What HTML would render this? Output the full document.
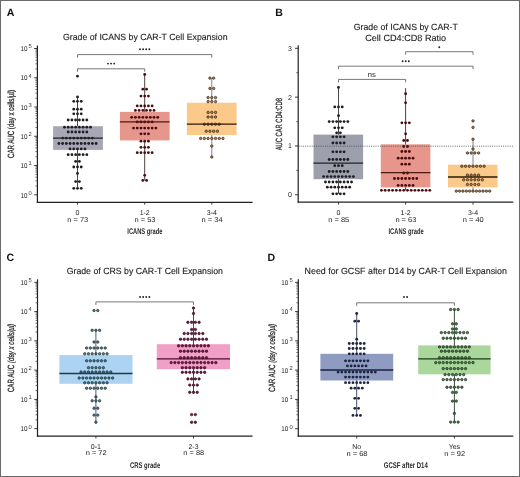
<!DOCTYPE html>
<html><head><meta charset="utf-8"><style>
html,body{margin:0;padding:0;background:#fff;width:520px;height:477px;overflow:hidden}
svg text{font-family:"Liberation Sans", sans-serif}
svg{will-change:transform;text-rendering:geometricPrecision}
</style></head><body>
<svg width="520" height="477" viewBox="0 0 520 477" style="display:block">
<rect width="520" height="477" fill="#fff"/>
<text x="6.80" y="16.00" font-size="10.6" text-anchor="start" fill="#111" font-weight="bold">A</text>
<text x="63.00" y="40.10" font-size="9.0" text-anchor="start" fill="#1e1e1e" font-weight="normal" textLength="164.5" lengthAdjust="spacingAndGlyphs" stroke="#1e1e1e" stroke-width="0.12">Grade of ICANS by CAR-T Cell Expansion</text>
<line x1="37.40" y1="45.50" x2="37.40" y2="202.90" stroke="#222" stroke-width="1.2"/>
<line x1="36.80" y1="202.30" x2="252.60" y2="202.30" stroke="#222" stroke-width="1.2"/>
<line x1="34.20" y1="194.80" x2="37.40" y2="194.80" stroke="#222" stroke-width="0.9"/>
<text x="27.40" y="197.50" font-size="6.9" text-anchor="end" fill="#222" font-weight="normal" textLength="7.0" lengthAdjust="spacingAndGlyphs">10</text>
<text x="28.50" y="194.60" font-size="5.8" text-anchor="start" fill="#333" font-weight="normal">0</text>
<line x1="35.50" y1="185.99" x2="37.40" y2="185.99" stroke="#333" stroke-width="0.75"/>
<line x1="35.50" y1="180.84" x2="37.40" y2="180.84" stroke="#333" stroke-width="0.75"/>
<line x1="35.50" y1="177.18" x2="37.40" y2="177.18" stroke="#333" stroke-width="0.75"/>
<line x1="35.50" y1="174.35" x2="37.40" y2="174.35" stroke="#333" stroke-width="0.75"/>
<line x1="35.50" y1="172.03" x2="37.40" y2="172.03" stroke="#333" stroke-width="0.75"/>
<line x1="35.50" y1="170.07" x2="37.40" y2="170.07" stroke="#333" stroke-width="0.75"/>
<line x1="35.50" y1="168.38" x2="37.40" y2="168.38" stroke="#333" stroke-width="0.75"/>
<line x1="35.50" y1="166.88" x2="37.40" y2="166.88" stroke="#333" stroke-width="0.75"/>
<line x1="34.20" y1="165.54" x2="37.40" y2="165.54" stroke="#222" stroke-width="0.9"/>
<text x="27.40" y="168.24" font-size="6.9" text-anchor="end" fill="#222" font-weight="normal" textLength="7.0" lengthAdjust="spacingAndGlyphs">10</text>
<text x="28.50" y="165.34" font-size="5.8" text-anchor="start" fill="#333" font-weight="normal">1</text>
<line x1="35.50" y1="156.73" x2="37.40" y2="156.73" stroke="#333" stroke-width="0.75"/>
<line x1="35.50" y1="151.58" x2="37.40" y2="151.58" stroke="#333" stroke-width="0.75"/>
<line x1="35.50" y1="147.92" x2="37.40" y2="147.92" stroke="#333" stroke-width="0.75"/>
<line x1="35.50" y1="145.09" x2="37.40" y2="145.09" stroke="#333" stroke-width="0.75"/>
<line x1="35.50" y1="142.77" x2="37.40" y2="142.77" stroke="#333" stroke-width="0.75"/>
<line x1="35.50" y1="140.81" x2="37.40" y2="140.81" stroke="#333" stroke-width="0.75"/>
<line x1="35.50" y1="139.12" x2="37.40" y2="139.12" stroke="#333" stroke-width="0.75"/>
<line x1="35.50" y1="137.62" x2="37.40" y2="137.62" stroke="#333" stroke-width="0.75"/>
<line x1="34.20" y1="136.28" x2="37.40" y2="136.28" stroke="#222" stroke-width="0.9"/>
<text x="27.40" y="138.98" font-size="6.9" text-anchor="end" fill="#222" font-weight="normal" textLength="7.0" lengthAdjust="spacingAndGlyphs">10</text>
<text x="28.50" y="136.08" font-size="5.8" text-anchor="start" fill="#333" font-weight="normal">2</text>
<line x1="35.50" y1="127.47" x2="37.40" y2="127.47" stroke="#333" stroke-width="0.75"/>
<line x1="35.50" y1="122.32" x2="37.40" y2="122.32" stroke="#333" stroke-width="0.75"/>
<line x1="35.50" y1="118.66" x2="37.40" y2="118.66" stroke="#333" stroke-width="0.75"/>
<line x1="35.50" y1="115.83" x2="37.40" y2="115.83" stroke="#333" stroke-width="0.75"/>
<line x1="35.50" y1="113.51" x2="37.40" y2="113.51" stroke="#333" stroke-width="0.75"/>
<line x1="35.50" y1="111.55" x2="37.40" y2="111.55" stroke="#333" stroke-width="0.75"/>
<line x1="35.50" y1="109.86" x2="37.40" y2="109.86" stroke="#333" stroke-width="0.75"/>
<line x1="35.50" y1="108.36" x2="37.40" y2="108.36" stroke="#333" stroke-width="0.75"/>
<line x1="34.20" y1="107.02" x2="37.40" y2="107.02" stroke="#222" stroke-width="0.9"/>
<text x="27.40" y="109.72" font-size="6.9" text-anchor="end" fill="#222" font-weight="normal" textLength="7.0" lengthAdjust="spacingAndGlyphs">10</text>
<text x="28.50" y="106.82" font-size="5.8" text-anchor="start" fill="#333" font-weight="normal">3</text>
<line x1="35.50" y1="98.21" x2="37.40" y2="98.21" stroke="#333" stroke-width="0.75"/>
<line x1="35.50" y1="93.06" x2="37.40" y2="93.06" stroke="#333" stroke-width="0.75"/>
<line x1="35.50" y1="89.40" x2="37.40" y2="89.40" stroke="#333" stroke-width="0.75"/>
<line x1="35.50" y1="86.57" x2="37.40" y2="86.57" stroke="#333" stroke-width="0.75"/>
<line x1="35.50" y1="84.25" x2="37.40" y2="84.25" stroke="#333" stroke-width="0.75"/>
<line x1="35.50" y1="82.29" x2="37.40" y2="82.29" stroke="#333" stroke-width="0.75"/>
<line x1="35.50" y1="80.60" x2="37.40" y2="80.60" stroke="#333" stroke-width="0.75"/>
<line x1="35.50" y1="79.10" x2="37.40" y2="79.10" stroke="#333" stroke-width="0.75"/>
<line x1="34.20" y1="77.76" x2="37.40" y2="77.76" stroke="#222" stroke-width="0.9"/>
<text x="27.40" y="80.46" font-size="6.9" text-anchor="end" fill="#222" font-weight="normal" textLength="7.0" lengthAdjust="spacingAndGlyphs">10</text>
<text x="28.50" y="77.56" font-size="5.8" text-anchor="start" fill="#333" font-weight="normal">4</text>
<line x1="35.50" y1="68.95" x2="37.40" y2="68.95" stroke="#333" stroke-width="0.75"/>
<line x1="35.50" y1="63.80" x2="37.40" y2="63.80" stroke="#333" stroke-width="0.75"/>
<line x1="35.50" y1="60.14" x2="37.40" y2="60.14" stroke="#333" stroke-width="0.75"/>
<line x1="35.50" y1="57.31" x2="37.40" y2="57.31" stroke="#333" stroke-width="0.75"/>
<line x1="35.50" y1="54.99" x2="37.40" y2="54.99" stroke="#333" stroke-width="0.75"/>
<line x1="35.50" y1="53.03" x2="37.40" y2="53.03" stroke="#333" stroke-width="0.75"/>
<line x1="35.50" y1="51.34" x2="37.40" y2="51.34" stroke="#333" stroke-width="0.75"/>
<line x1="35.50" y1="49.84" x2="37.40" y2="49.84" stroke="#333" stroke-width="0.75"/>
<line x1="34.20" y1="48.50" x2="37.40" y2="48.50" stroke="#222" stroke-width="0.9"/>
<text x="27.40" y="51.20" font-size="6.9" text-anchor="end" fill="#222" font-weight="normal" textLength="7.0" lengthAdjust="spacingAndGlyphs">10</text>
<text x="28.50" y="48.30" font-size="5.8" text-anchor="start" fill="#333" font-weight="normal">5</text>
<text x="0" y="0" font-size="9.0" text-anchor="middle" fill="#222" stroke="#222" stroke-width="0.25" textLength="68" lengthAdjust="spacingAndGlyphs" transform="translate(14.20,124.00) rotate(-90)">CAR AUC (day x cells/µl)</text>
<line x1="77.50" y1="202.40" x2="77.50" y2="204.60" stroke="#222" stroke-width="0.9"/>
<text x="77.50" y="214.80" font-size="7" text-anchor="middle" fill="#222" font-weight="normal">0</text>
<text x="77.80" y="221.60" font-size="7" text-anchor="middle" fill="#222" font-weight="normal" textLength="21" lengthAdjust="spacingAndGlyphs">n = 73</text>
<line x1="144.70" y1="202.40" x2="144.70" y2="204.60" stroke="#222" stroke-width="0.9"/>
<text x="144.70" y="214.80" font-size="7" text-anchor="middle" fill="#222" font-weight="normal">1-2</text>
<text x="145.00" y="221.60" font-size="7" text-anchor="middle" fill="#222" font-weight="normal" textLength="21" lengthAdjust="spacingAndGlyphs">n = 53</text>
<line x1="211.80" y1="202.40" x2="211.80" y2="204.60" stroke="#222" stroke-width="0.9"/>
<text x="211.80" y="214.80" font-size="7" text-anchor="middle" fill="#222" font-weight="normal">3-4</text>
<text x="212.10" y="221.60" font-size="7" text-anchor="middle" fill="#222" font-weight="normal" textLength="21" lengthAdjust="spacingAndGlyphs">n = 34</text>
<text x="127.30" y="233.70" font-size="8.3" text-anchor="start" fill="#2a2a2a" font-weight="bold" textLength="35.2" lengthAdjust="spacingAndGlyphs">ICANS grade</text>
<path d="M77.50,57.60 V54.60 H211.80 V57.60" fill="none" stroke="#555" stroke-width="0.8"/>
<circle cx="140.00" cy="49.20" r="0.95" fill="#222"/>
<circle cx="143.10" cy="49.20" r="0.95" fill="#222"/>
<circle cx="146.20" cy="49.20" r="0.95" fill="#222"/>
<circle cx="149.30" cy="49.20" r="0.95" fill="#222"/>
<path d="M77.50,71.80 V68.80 H144.70 V71.80" fill="none" stroke="#555" stroke-width="0.8"/>
<circle cx="108.00" cy="63.60" r="0.95" fill="#222"/>
<circle cx="111.10" cy="63.60" r="0.95" fill="#222"/>
<circle cx="114.20" cy="63.60" r="0.95" fill="#222"/>
<line x1="77.50" y1="96.90" x2="77.50" y2="188.30" stroke="#333" stroke-width="0.9"/>
<rect x="53.10" y="126.20" width="49.80" height="23.70" fill="#a7a7b6"/>
<circle cx="77.50" cy="76.20" r="1.42" fill="#1e1e24"/>
<circle cx="77.50" cy="96.90" r="1.42" fill="#1e1e24"/>
<circle cx="73.78" cy="101.30" r="1.42" fill="#1e1e24"/>
<circle cx="77.50" cy="101.30" r="1.42" fill="#1e1e24"/>
<circle cx="81.22" cy="101.30" r="1.42" fill="#1e1e24"/>
<circle cx="73.78" cy="109.20" r="1.42" fill="#1e1e24"/>
<circle cx="77.50" cy="109.20" r="1.42" fill="#1e1e24"/>
<circle cx="81.22" cy="109.20" r="1.42" fill="#1e1e24"/>
<circle cx="73.78" cy="113.80" r="1.42" fill="#1e1e24"/>
<circle cx="77.50" cy="113.80" r="1.42" fill="#1e1e24"/>
<circle cx="81.22" cy="113.80" r="1.42" fill="#1e1e24"/>
<circle cx="68.20" cy="120.00" r="1.42" fill="#1e1e24"/>
<circle cx="71.92" cy="120.00" r="1.42" fill="#1e1e24"/>
<circle cx="75.64" cy="120.00" r="1.42" fill="#1e1e24"/>
<circle cx="79.36" cy="120.00" r="1.42" fill="#1e1e24"/>
<circle cx="83.08" cy="120.00" r="1.42" fill="#1e1e24"/>
<circle cx="86.80" cy="120.00" r="1.42" fill="#1e1e24"/>
<circle cx="64.48" cy="127.20" r="1.42" fill="#1e1e24"/>
<circle cx="68.20" cy="127.20" r="1.42" fill="#1e1e24"/>
<circle cx="71.92" cy="127.20" r="1.42" fill="#1e1e24"/>
<circle cx="75.64" cy="127.20" r="1.42" fill="#1e1e24"/>
<circle cx="79.36" cy="127.20" r="1.42" fill="#1e1e24"/>
<circle cx="83.08" cy="127.20" r="1.42" fill="#1e1e24"/>
<circle cx="86.80" cy="127.20" r="1.42" fill="#1e1e24"/>
<circle cx="90.52" cy="127.20" r="1.42" fill="#1e1e24"/>
<circle cx="68.20" cy="132.00" r="1.42" fill="#1e1e24"/>
<circle cx="71.92" cy="132.00" r="1.42" fill="#1e1e24"/>
<circle cx="75.64" cy="132.00" r="1.42" fill="#1e1e24"/>
<circle cx="79.36" cy="132.00" r="1.42" fill="#1e1e24"/>
<circle cx="83.08" cy="132.00" r="1.42" fill="#1e1e24"/>
<circle cx="86.80" cy="132.00" r="1.42" fill="#1e1e24"/>
<circle cx="62.62" cy="138.10" r="1.42" fill="#1e1e24"/>
<circle cx="66.34" cy="138.10" r="1.42" fill="#1e1e24"/>
<circle cx="70.06" cy="138.10" r="1.42" fill="#1e1e24"/>
<circle cx="73.78" cy="138.10" r="1.42" fill="#1e1e24"/>
<circle cx="77.50" cy="138.10" r="1.42" fill="#1e1e24"/>
<circle cx="81.22" cy="138.10" r="1.42" fill="#1e1e24"/>
<circle cx="84.94" cy="138.10" r="1.42" fill="#1e1e24"/>
<circle cx="88.66" cy="138.10" r="1.42" fill="#1e1e24"/>
<circle cx="92.38" cy="138.10" r="1.42" fill="#1e1e24"/>
<circle cx="58.90" cy="143.50" r="1.42" fill="#1e1e24"/>
<circle cx="62.62" cy="143.50" r="1.42" fill="#1e1e24"/>
<circle cx="66.34" cy="143.50" r="1.42" fill="#1e1e24"/>
<circle cx="70.06" cy="143.50" r="1.42" fill="#1e1e24"/>
<circle cx="73.78" cy="143.50" r="1.42" fill="#1e1e24"/>
<circle cx="77.50" cy="143.50" r="1.42" fill="#1e1e24"/>
<circle cx="81.22" cy="143.50" r="1.42" fill="#1e1e24"/>
<circle cx="84.94" cy="143.50" r="1.42" fill="#1e1e24"/>
<circle cx="88.66" cy="143.50" r="1.42" fill="#1e1e24"/>
<circle cx="92.38" cy="143.50" r="1.42" fill="#1e1e24"/>
<circle cx="96.10" cy="143.50" r="1.42" fill="#1e1e24"/>
<circle cx="70.06" cy="148.90" r="1.42" fill="#1e1e24"/>
<circle cx="73.78" cy="148.90" r="1.42" fill="#1e1e24"/>
<circle cx="77.50" cy="148.90" r="1.42" fill="#1e1e24"/>
<circle cx="81.22" cy="148.90" r="1.42" fill="#1e1e24"/>
<circle cx="84.94" cy="148.90" r="1.42" fill="#1e1e24"/>
<circle cx="68.20" cy="154.70" r="1.42" fill="#1e1e24"/>
<circle cx="71.92" cy="154.70" r="1.42" fill="#1e1e24"/>
<circle cx="75.64" cy="154.70" r="1.42" fill="#1e1e24"/>
<circle cx="79.36" cy="154.70" r="1.42" fill="#1e1e24"/>
<circle cx="83.08" cy="154.70" r="1.42" fill="#1e1e24"/>
<circle cx="86.80" cy="154.70" r="1.42" fill="#1e1e24"/>
<circle cx="75.64" cy="161.40" r="1.42" fill="#1e1e24"/>
<circle cx="79.36" cy="161.40" r="1.42" fill="#1e1e24"/>
<circle cx="73.78" cy="167.00" r="1.42" fill="#1e1e24"/>
<circle cx="77.50" cy="167.00" r="1.42" fill="#1e1e24"/>
<circle cx="81.22" cy="167.00" r="1.42" fill="#1e1e24"/>
<circle cx="77.50" cy="173.40" r="1.42" fill="#1e1e24"/>
<circle cx="75.64" cy="181.60" r="1.42" fill="#1e1e24"/>
<circle cx="79.36" cy="181.60" r="1.42" fill="#1e1e24"/>
<circle cx="73.78" cy="188.30" r="1.42" fill="#1e1e24"/>
<circle cx="77.50" cy="188.30" r="1.42" fill="#1e1e24"/>
<circle cx="81.22" cy="188.30" r="1.42" fill="#1e1e24"/>
<line x1="53.10" y1="138.10" x2="102.90" y2="138.10" stroke="#222" stroke-width="1.3"/>
<line x1="144.70" y1="74.50" x2="144.70" y2="180.40" stroke="#3a2a2a" stroke-width="0.9"/>
<rect x="119.90" y="111.90" width="49.70" height="28.50" fill="#e6968b"/>
<circle cx="144.70" cy="74.50" r="1.42" fill="#4a0c10"/>
<circle cx="142.84" cy="89.20" r="1.42" fill="#4a0c10"/>
<circle cx="146.56" cy="89.20" r="1.42" fill="#4a0c10"/>
<circle cx="140.98" cy="96.10" r="1.42" fill="#4a0c10"/>
<circle cx="144.70" cy="96.10" r="1.42" fill="#4a0c10"/>
<circle cx="148.42" cy="96.10" r="1.42" fill="#4a0c10"/>
<circle cx="137.26" cy="105.90" r="1.42" fill="#4a0c10"/>
<circle cx="140.98" cy="105.90" r="1.42" fill="#4a0c10"/>
<circle cx="144.70" cy="105.90" r="1.42" fill="#4a0c10"/>
<circle cx="148.42" cy="105.90" r="1.42" fill="#4a0c10"/>
<circle cx="152.14" cy="105.90" r="1.42" fill="#4a0c10"/>
<circle cx="135.40" cy="110.40" r="1.42" fill="#4a0c10"/>
<circle cx="139.12" cy="110.40" r="1.42" fill="#4a0c10"/>
<circle cx="142.84" cy="110.40" r="1.42" fill="#4a0c10"/>
<circle cx="146.56" cy="110.40" r="1.42" fill="#4a0c10"/>
<circle cx="150.28" cy="110.40" r="1.42" fill="#4a0c10"/>
<circle cx="154.00" cy="110.40" r="1.42" fill="#4a0c10"/>
<circle cx="131.68" cy="117.30" r="1.42" fill="#4a0c10"/>
<circle cx="135.40" cy="117.30" r="1.42" fill="#4a0c10"/>
<circle cx="139.12" cy="117.30" r="1.42" fill="#4a0c10"/>
<circle cx="142.84" cy="117.30" r="1.42" fill="#4a0c10"/>
<circle cx="146.56" cy="117.30" r="1.42" fill="#4a0c10"/>
<circle cx="150.28" cy="117.30" r="1.42" fill="#4a0c10"/>
<circle cx="154.00" cy="117.30" r="1.42" fill="#4a0c10"/>
<circle cx="157.72" cy="117.30" r="1.42" fill="#4a0c10"/>
<circle cx="137.26" cy="121.90" r="1.42" fill="#4a0c10"/>
<circle cx="140.98" cy="121.90" r="1.42" fill="#4a0c10"/>
<circle cx="144.70" cy="121.90" r="1.42" fill="#4a0c10"/>
<circle cx="148.42" cy="121.90" r="1.42" fill="#4a0c10"/>
<circle cx="152.14" cy="121.90" r="1.42" fill="#4a0c10"/>
<circle cx="133.54" cy="128.10" r="1.42" fill="#4a0c10"/>
<circle cx="137.26" cy="128.10" r="1.42" fill="#4a0c10"/>
<circle cx="140.98" cy="128.10" r="1.42" fill="#4a0c10"/>
<circle cx="144.70" cy="128.10" r="1.42" fill="#4a0c10"/>
<circle cx="148.42" cy="128.10" r="1.42" fill="#4a0c10"/>
<circle cx="152.14" cy="128.10" r="1.42" fill="#4a0c10"/>
<circle cx="155.86" cy="128.10" r="1.42" fill="#4a0c10"/>
<circle cx="140.98" cy="133.80" r="1.42" fill="#4a0c10"/>
<circle cx="144.70" cy="133.80" r="1.42" fill="#4a0c10"/>
<circle cx="148.42" cy="133.80" r="1.42" fill="#4a0c10"/>
<circle cx="140.98" cy="141.20" r="1.42" fill="#4a0c10"/>
<circle cx="144.70" cy="141.20" r="1.42" fill="#4a0c10"/>
<circle cx="148.42" cy="141.20" r="1.42" fill="#4a0c10"/>
<circle cx="140.98" cy="147.30" r="1.42" fill="#4a0c10"/>
<circle cx="144.70" cy="147.30" r="1.42" fill="#4a0c10"/>
<circle cx="148.42" cy="147.30" r="1.42" fill="#4a0c10"/>
<circle cx="137.26" cy="152.70" r="1.42" fill="#4a0c10"/>
<circle cx="140.98" cy="152.70" r="1.42" fill="#4a0c10"/>
<circle cx="144.70" cy="152.70" r="1.42" fill="#4a0c10"/>
<circle cx="148.42" cy="152.70" r="1.42" fill="#4a0c10"/>
<circle cx="152.14" cy="152.70" r="1.42" fill="#4a0c10"/>
<circle cx="144.70" cy="175.30" r="1.42" fill="#4a0c10"/>
<circle cx="142.84" cy="180.40" r="1.42" fill="#4a0c10"/>
<circle cx="146.56" cy="180.40" r="1.42" fill="#4a0c10"/>
<line x1="119.90" y1="121.90" x2="169.60" y2="121.90" stroke="#4a1a12" stroke-width="1.3"/>
<line x1="211.80" y1="78.10" x2="211.80" y2="157.00" stroke="#6f7584" stroke-width="0.9"/>
<rect x="186.90" y="102.70" width="49.70" height="32.30" fill="#fbc98a"/>
<circle cx="209.94" cy="78.10" r="1.22" fill="#a88458" stroke="#35220f" stroke-width="0.7"/>
<circle cx="213.66" cy="78.10" r="1.22" fill="#a88458" stroke="#35220f" stroke-width="0.7"/>
<circle cx="209.94" cy="88.40" r="1.22" fill="#a88458" stroke="#35220f" stroke-width="0.7"/>
<circle cx="213.66" cy="88.40" r="1.22" fill="#a88458" stroke="#35220f" stroke-width="0.7"/>
<circle cx="208.08" cy="97.60" r="1.22" fill="#a88458" stroke="#35220f" stroke-width="0.7"/>
<circle cx="211.80" cy="97.60" r="1.22" fill="#a88458" stroke="#35220f" stroke-width="0.7"/>
<circle cx="215.52" cy="97.60" r="1.22" fill="#a88458" stroke="#35220f" stroke-width="0.7"/>
<circle cx="208.08" cy="101.60" r="1.22" fill="#a88458" stroke="#35220f" stroke-width="0.7"/>
<circle cx="211.80" cy="101.60" r="1.22" fill="#a88458" stroke="#35220f" stroke-width="0.7"/>
<circle cx="215.52" cy="101.60" r="1.22" fill="#a88458" stroke="#35220f" stroke-width="0.7"/>
<circle cx="208.08" cy="112.40" r="1.22" fill="#a88458" stroke="#35220f" stroke-width="0.7"/>
<circle cx="211.80" cy="112.40" r="1.22" fill="#a88458" stroke="#35220f" stroke-width="0.7"/>
<circle cx="215.52" cy="112.40" r="1.22" fill="#a88458" stroke="#35220f" stroke-width="0.7"/>
<circle cx="208.08" cy="117.00" r="1.22" fill="#a88458" stroke="#35220f" stroke-width="0.7"/>
<circle cx="211.80" cy="117.00" r="1.22" fill="#a88458" stroke="#35220f" stroke-width="0.7"/>
<circle cx="215.52" cy="117.00" r="1.22" fill="#a88458" stroke="#35220f" stroke-width="0.7"/>
<circle cx="204.36" cy="124.20" r="1.22" fill="#a88458" stroke="#35220f" stroke-width="0.7"/>
<circle cx="208.08" cy="124.20" r="1.22" fill="#a88458" stroke="#35220f" stroke-width="0.7"/>
<circle cx="211.80" cy="124.20" r="1.22" fill="#a88458" stroke="#35220f" stroke-width="0.7"/>
<circle cx="215.52" cy="124.20" r="1.22" fill="#a88458" stroke="#35220f" stroke-width="0.7"/>
<circle cx="219.24" cy="124.20" r="1.22" fill="#a88458" stroke="#35220f" stroke-width="0.7"/>
<circle cx="206.22" cy="131.20" r="1.22" fill="#a88458" stroke="#35220f" stroke-width="0.7"/>
<circle cx="209.94" cy="131.20" r="1.22" fill="#a88458" stroke="#35220f" stroke-width="0.7"/>
<circle cx="213.66" cy="131.20" r="1.22" fill="#a88458" stroke="#35220f" stroke-width="0.7"/>
<circle cx="217.38" cy="131.20" r="1.22" fill="#a88458" stroke="#35220f" stroke-width="0.7"/>
<circle cx="200.64" cy="138.40" r="1.22" fill="#a88458" stroke="#35220f" stroke-width="0.7"/>
<circle cx="204.36" cy="138.40" r="1.22" fill="#a88458" stroke="#35220f" stroke-width="0.7"/>
<circle cx="208.08" cy="138.40" r="1.22" fill="#a88458" stroke="#35220f" stroke-width="0.7"/>
<circle cx="211.80" cy="138.40" r="1.22" fill="#a88458" stroke="#35220f" stroke-width="0.7"/>
<circle cx="215.52" cy="138.40" r="1.22" fill="#a88458" stroke="#35220f" stroke-width="0.7"/>
<circle cx="219.24" cy="138.40" r="1.22" fill="#a88458" stroke="#35220f" stroke-width="0.7"/>
<circle cx="222.96" cy="138.40" r="1.22" fill="#a88458" stroke="#35220f" stroke-width="0.7"/>
<circle cx="211.80" cy="146.10" r="1.22" fill="#a88458" stroke="#35220f" stroke-width="0.7"/>
<circle cx="211.80" cy="157.00" r="1.22" fill="#a88458" stroke="#35220f" stroke-width="0.7"/>
<line x1="186.90" y1="124.20" x2="236.60" y2="124.20" stroke="#2a1a0a" stroke-width="1.3"/>
<text x="275.20" y="16.00" font-size="10.6" text-anchor="start" fill="#111" font-weight="bold">B</text>
<text x="353.70" y="29.80" font-size="9.0" text-anchor="start" fill="#1e1e1e" font-weight="normal" textLength="104.2" lengthAdjust="spacingAndGlyphs" stroke="#1e1e1e" stroke-width="0.12">Grade of ICANS by CAR-T</text>
<text x="365.20" y="40.80" font-size="9.0" text-anchor="start" fill="#1e1e1e" font-weight="normal" textLength="81.0" lengthAdjust="spacingAndGlyphs" stroke="#1e1e1e" stroke-width="0.12">Cell CD4:CD8 Ratio</text>
<line x1="298.20" y1="45.31" x2="298.20" y2="202.80" stroke="#222" stroke-width="1.2"/>
<line x1="297.60" y1="202.20" x2="513.30" y2="202.20" stroke="#222" stroke-width="1.2"/>
<line x1="295.00" y1="194.80" x2="298.20" y2="194.80" stroke="#222" stroke-width="0.9"/>
<text x="292.00" y="197.20" font-size="7" text-anchor="end" fill="#222" font-weight="normal">0</text>
<line x1="295.00" y1="145.97" x2="298.20" y2="145.97" stroke="#222" stroke-width="0.9"/>
<text x="292.00" y="148.37" font-size="7" text-anchor="end" fill="#222" font-weight="normal">1</text>
<line x1="295.00" y1="97.14" x2="298.20" y2="97.14" stroke="#222" stroke-width="0.9"/>
<text x="292.00" y="99.54" font-size="7" text-anchor="end" fill="#222" font-weight="normal">2</text>
<line x1="295.00" y1="48.31" x2="298.20" y2="48.31" stroke="#222" stroke-width="0.9"/>
<text x="292.00" y="50.71" font-size="7" text-anchor="end" fill="#222" font-weight="normal">3</text>
<line x1="296.30" y1="170.39" x2="298.20" y2="170.39" stroke="#333" stroke-width="0.75"/>
<line x1="296.30" y1="121.56" x2="298.20" y2="121.56" stroke="#333" stroke-width="0.75"/>
<line x1="296.30" y1="72.73" x2="298.20" y2="72.73" stroke="#333" stroke-width="0.75"/>
<text x="0" y="0" font-size="9.0" text-anchor="middle" fill="#222" stroke="#222" stroke-width="0.25" textLength="52.2" lengthAdjust="spacingAndGlyphs" transform="translate(282.40,124.20) rotate(-90)">AUC CAR CD4:CD8</text>
<line x1="338.50" y1="202.40" x2="338.50" y2="204.60" stroke="#222" stroke-width="0.9"/>
<text x="338.50" y="214.80" font-size="7" text-anchor="middle" fill="#222" font-weight="normal">0</text>
<text x="338.80" y="221.60" font-size="7" text-anchor="middle" fill="#222" font-weight="normal" textLength="21" lengthAdjust="spacingAndGlyphs">n = 85</text>
<line x1="405.60" y1="202.40" x2="405.60" y2="204.60" stroke="#222" stroke-width="0.9"/>
<text x="405.60" y="214.80" font-size="7" text-anchor="middle" fill="#222" font-weight="normal">1-2</text>
<text x="405.90" y="221.60" font-size="7" text-anchor="middle" fill="#222" font-weight="normal" textLength="21" lengthAdjust="spacingAndGlyphs">n = 63</text>
<line x1="473.00" y1="202.40" x2="473.00" y2="204.60" stroke="#222" stroke-width="0.9"/>
<text x="473.00" y="214.80" font-size="7" text-anchor="middle" fill="#222" font-weight="normal">3-4</text>
<text x="473.30" y="221.60" font-size="7" text-anchor="middle" fill="#222" font-weight="normal" textLength="21" lengthAdjust="spacingAndGlyphs">n = 40</text>
<text x="388.50" y="233.70" font-size="8.3" text-anchor="start" fill="#2a2a2a" font-weight="bold" textLength="35.1" lengthAdjust="spacingAndGlyphs">ICANS grade</text>
<path d="M405.60,54.70 V51.70 H473.00 V54.70" fill="none" stroke="#555" stroke-width="0.8"/>
<circle cx="439.30" cy="47.30" r="0.95" fill="#222"/>
<path d="M338.50,69.20 V66.20 H473.00 V69.20" fill="none" stroke="#555" stroke-width="0.8"/>
<circle cx="402.65" cy="61.20" r="0.95" fill="#222"/>
<circle cx="405.75" cy="61.20" r="0.95" fill="#222"/>
<circle cx="408.85" cy="61.20" r="0.95" fill="#222"/>
<path d="M338.50,82.40 V79.40 H405.60 V82.40" fill="none" stroke="#555" stroke-width="0.8"/>
<text x="371.75" y="76.70" font-size="7.6" text-anchor="middle" fill="#222" font-weight="normal">ns</text>
<line x1="338.50" y1="87.40" x2="338.50" y2="193.80" stroke="#333" stroke-width="0.9"/>
<rect x="313.50" y="134.60" width="49.60" height="44.60" fill="#9d9fac"/>
<circle cx="338.50" cy="87.40" r="1.42" fill="#1e1e24"/>
<circle cx="334.78" cy="106.90" r="1.42" fill="#1e1e24"/>
<circle cx="338.50" cy="106.90" r="1.42" fill="#1e1e24"/>
<circle cx="342.22" cy="106.90" r="1.42" fill="#1e1e24"/>
<circle cx="338.50" cy="115.70" r="1.42" fill="#1e1e24"/>
<circle cx="329.20" cy="121.60" r="1.42" fill="#1e1e24"/>
<circle cx="332.92" cy="121.60" r="1.42" fill="#1e1e24"/>
<circle cx="336.64" cy="121.60" r="1.42" fill="#1e1e24"/>
<circle cx="340.36" cy="121.60" r="1.42" fill="#1e1e24"/>
<circle cx="344.08" cy="121.60" r="1.42" fill="#1e1e24"/>
<circle cx="347.80" cy="121.60" r="1.42" fill="#1e1e24"/>
<circle cx="334.78" cy="127.80" r="1.42" fill="#1e1e24"/>
<circle cx="338.50" cy="127.80" r="1.42" fill="#1e1e24"/>
<circle cx="342.22" cy="127.80" r="1.42" fill="#1e1e24"/>
<circle cx="336.64" cy="132.80" r="1.42" fill="#1e1e24"/>
<circle cx="340.36" cy="132.80" r="1.42" fill="#1e1e24"/>
<circle cx="332.92" cy="136.80" r="1.42" fill="#1e1e24"/>
<circle cx="336.64" cy="136.80" r="1.42" fill="#1e1e24"/>
<circle cx="340.36" cy="136.80" r="1.42" fill="#1e1e24"/>
<circle cx="344.08" cy="136.80" r="1.42" fill="#1e1e24"/>
<circle cx="332.92" cy="143.00" r="1.42" fill="#1e1e24"/>
<circle cx="336.64" cy="143.00" r="1.42" fill="#1e1e24"/>
<circle cx="340.36" cy="143.00" r="1.42" fill="#1e1e24"/>
<circle cx="344.08" cy="143.00" r="1.42" fill="#1e1e24"/>
<circle cx="332.92" cy="151.80" r="1.42" fill="#1e1e24"/>
<circle cx="336.64" cy="151.80" r="1.42" fill="#1e1e24"/>
<circle cx="340.36" cy="151.80" r="1.42" fill="#1e1e24"/>
<circle cx="344.08" cy="151.80" r="1.42" fill="#1e1e24"/>
<circle cx="329.20" cy="159.50" r="1.42" fill="#1e1e24"/>
<circle cx="332.92" cy="159.50" r="1.42" fill="#1e1e24"/>
<circle cx="336.64" cy="159.50" r="1.42" fill="#1e1e24"/>
<circle cx="340.36" cy="159.50" r="1.42" fill="#1e1e24"/>
<circle cx="344.08" cy="159.50" r="1.42" fill="#1e1e24"/>
<circle cx="347.80" cy="159.50" r="1.42" fill="#1e1e24"/>
<circle cx="334.78" cy="165.70" r="1.42" fill="#1e1e24"/>
<circle cx="338.50" cy="165.70" r="1.42" fill="#1e1e24"/>
<circle cx="342.22" cy="165.70" r="1.42" fill="#1e1e24"/>
<circle cx="329.20" cy="171.50" r="1.42" fill="#1e1e24"/>
<circle cx="332.92" cy="171.50" r="1.42" fill="#1e1e24"/>
<circle cx="336.64" cy="171.50" r="1.42" fill="#1e1e24"/>
<circle cx="340.36" cy="171.50" r="1.42" fill="#1e1e24"/>
<circle cx="344.08" cy="171.50" r="1.42" fill="#1e1e24"/>
<circle cx="347.80" cy="171.50" r="1.42" fill="#1e1e24"/>
<circle cx="323.62" cy="176.60" r="1.42" fill="#1e1e24"/>
<circle cx="327.34" cy="176.60" r="1.42" fill="#1e1e24"/>
<circle cx="331.06" cy="176.60" r="1.42" fill="#1e1e24"/>
<circle cx="334.78" cy="176.60" r="1.42" fill="#1e1e24"/>
<circle cx="338.50" cy="176.60" r="1.42" fill="#1e1e24"/>
<circle cx="342.22" cy="176.60" r="1.42" fill="#1e1e24"/>
<circle cx="345.94" cy="176.60" r="1.42" fill="#1e1e24"/>
<circle cx="349.66" cy="176.60" r="1.42" fill="#1e1e24"/>
<circle cx="353.38" cy="176.60" r="1.42" fill="#1e1e24"/>
<circle cx="325.48" cy="182.00" r="1.42" fill="#1e1e24"/>
<circle cx="329.20" cy="182.00" r="1.42" fill="#1e1e24"/>
<circle cx="332.92" cy="182.00" r="1.42" fill="#1e1e24"/>
<circle cx="336.64" cy="182.00" r="1.42" fill="#1e1e24"/>
<circle cx="340.36" cy="182.00" r="1.42" fill="#1e1e24"/>
<circle cx="344.08" cy="182.00" r="1.42" fill="#1e1e24"/>
<circle cx="347.80" cy="182.00" r="1.42" fill="#1e1e24"/>
<circle cx="351.52" cy="182.00" r="1.42" fill="#1e1e24"/>
<circle cx="327.34" cy="187.20" r="1.42" fill="#1e1e24"/>
<circle cx="331.06" cy="187.20" r="1.42" fill="#1e1e24"/>
<circle cx="334.78" cy="187.20" r="1.42" fill="#1e1e24"/>
<circle cx="338.50" cy="187.20" r="1.42" fill="#1e1e24"/>
<circle cx="342.22" cy="187.20" r="1.42" fill="#1e1e24"/>
<circle cx="345.94" cy="187.20" r="1.42" fill="#1e1e24"/>
<circle cx="349.66" cy="187.20" r="1.42" fill="#1e1e24"/>
<circle cx="332.92" cy="193.80" r="1.42" fill="#1e1e24"/>
<circle cx="336.64" cy="193.80" r="1.42" fill="#1e1e24"/>
<circle cx="340.36" cy="193.80" r="1.42" fill="#1e1e24"/>
<circle cx="344.08" cy="193.80" r="1.42" fill="#1e1e24"/>
<line x1="313.50" y1="163.10" x2="363.10" y2="163.10" stroke="#222" stroke-width="1.3"/>
<line x1="405.60" y1="88.10" x2="405.60" y2="190.30" stroke="#3a2a2a" stroke-width="0.9"/>
<rect x="380.80" y="144.30" width="49.60" height="43.10" fill="#e6968b"/>
<circle cx="405.60" cy="93.75" r="1.42" fill="#4a0c10"/>
<circle cx="405.60" cy="102.80" r="1.42" fill="#4a0c10"/>
<circle cx="401.88" cy="122.80" r="1.42" fill="#4a0c10"/>
<circle cx="405.60" cy="122.80" r="1.42" fill="#4a0c10"/>
<circle cx="409.32" cy="122.80" r="1.42" fill="#4a0c10"/>
<circle cx="405.60" cy="133.80" r="1.42" fill="#4a0c10"/>
<circle cx="403.74" cy="140.50" r="1.42" fill="#4a0c10"/>
<circle cx="407.46" cy="140.50" r="1.42" fill="#4a0c10"/>
<circle cx="403.74" cy="146.50" r="1.42" fill="#4a0c10"/>
<circle cx="407.46" cy="146.50" r="1.42" fill="#4a0c10"/>
<circle cx="401.88" cy="151.50" r="1.42" fill="#4a0c10"/>
<circle cx="405.60" cy="151.50" r="1.42" fill="#4a0c10"/>
<circle cx="409.32" cy="151.50" r="1.42" fill="#4a0c10"/>
<circle cx="398.16" cy="158.20" r="1.42" fill="#4a0c10"/>
<circle cx="401.88" cy="158.20" r="1.42" fill="#4a0c10"/>
<circle cx="405.60" cy="158.20" r="1.42" fill="#4a0c10"/>
<circle cx="409.32" cy="158.20" r="1.42" fill="#4a0c10"/>
<circle cx="413.04" cy="158.20" r="1.42" fill="#4a0c10"/>
<circle cx="401.88" cy="164.20" r="1.42" fill="#4a0c10"/>
<circle cx="405.60" cy="164.20" r="1.42" fill="#4a0c10"/>
<circle cx="409.32" cy="164.20" r="1.42" fill="#4a0c10"/>
<circle cx="403.74" cy="173.00" r="1.42" fill="#4a0c10"/>
<circle cx="407.46" cy="173.00" r="1.42" fill="#4a0c10"/>
<circle cx="394.44" cy="178.50" r="1.42" fill="#4a0c10"/>
<circle cx="398.16" cy="178.50" r="1.42" fill="#4a0c10"/>
<circle cx="401.88" cy="178.50" r="1.42" fill="#4a0c10"/>
<circle cx="405.60" cy="178.50" r="1.42" fill="#4a0c10"/>
<circle cx="409.32" cy="178.50" r="1.42" fill="#4a0c10"/>
<circle cx="413.04" cy="178.50" r="1.42" fill="#4a0c10"/>
<circle cx="416.76" cy="178.50" r="1.42" fill="#4a0c10"/>
<circle cx="398.16" cy="185.40" r="1.42" fill="#4a0c10"/>
<circle cx="401.88" cy="185.40" r="1.42" fill="#4a0c10"/>
<circle cx="405.60" cy="185.40" r="1.42" fill="#4a0c10"/>
<circle cx="409.32" cy="185.40" r="1.42" fill="#4a0c10"/>
<circle cx="413.04" cy="185.40" r="1.42" fill="#4a0c10"/>
<circle cx="381.42" cy="190.30" r="1.42" fill="#4a0c10"/>
<circle cx="385.14" cy="190.30" r="1.42" fill="#4a0c10"/>
<circle cx="388.86" cy="190.30" r="1.42" fill="#4a0c10"/>
<circle cx="392.58" cy="190.30" r="1.42" fill="#4a0c10"/>
<circle cx="396.30" cy="190.30" r="1.42" fill="#4a0c10"/>
<circle cx="400.02" cy="190.30" r="1.42" fill="#4a0c10"/>
<circle cx="403.74" cy="190.30" r="1.42" fill="#4a0c10"/>
<circle cx="407.46" cy="190.30" r="1.42" fill="#4a0c10"/>
<circle cx="411.18" cy="190.30" r="1.42" fill="#4a0c10"/>
<circle cx="414.90" cy="190.30" r="1.42" fill="#4a0c10"/>
<circle cx="418.62" cy="190.30" r="1.42" fill="#4a0c10"/>
<circle cx="422.34" cy="190.30" r="1.42" fill="#4a0c10"/>
<circle cx="426.06" cy="190.30" r="1.42" fill="#4a0c10"/>
<circle cx="429.78" cy="190.30" r="1.42" fill="#4a0c10"/>
<line x1="380.80" y1="172.60" x2="430.40" y2="172.60" stroke="#4a1a12" stroke-width="1.3"/>
<line x1="473.00" y1="139.20" x2="473.00" y2="191.10" stroke="#6f7584" stroke-width="0.9"/>
<rect x="448.00" y="164.70" width="49.50" height="22.70" fill="#fbc98a"/>
<circle cx="473.00" cy="120.90" r="1.22" fill="#a88458" stroke="#35220f" stroke-width="0.7"/>
<circle cx="473.00" cy="127.40" r="1.22" fill="#a88458" stroke="#35220f" stroke-width="0.7"/>
<circle cx="473.00" cy="139.20" r="1.22" fill="#a88458" stroke="#35220f" stroke-width="0.7"/>
<circle cx="473.00" cy="149.00" r="1.22" fill="#a88458" stroke="#35220f" stroke-width="0.7"/>
<circle cx="467.42" cy="153.00" r="1.22" fill="#a88458" stroke="#35220f" stroke-width="0.7"/>
<circle cx="471.14" cy="153.00" r="1.22" fill="#a88458" stroke="#35220f" stroke-width="0.7"/>
<circle cx="474.86" cy="153.00" r="1.22" fill="#a88458" stroke="#35220f" stroke-width="0.7"/>
<circle cx="478.58" cy="153.00" r="1.22" fill="#a88458" stroke="#35220f" stroke-width="0.7"/>
<circle cx="461.84" cy="166.20" r="1.22" fill="#a88458" stroke="#35220f" stroke-width="0.7"/>
<circle cx="465.56" cy="166.20" r="1.22" fill="#a88458" stroke="#35220f" stroke-width="0.7"/>
<circle cx="469.28" cy="166.20" r="1.22" fill="#a88458" stroke="#35220f" stroke-width="0.7"/>
<circle cx="473.00" cy="166.20" r="1.22" fill="#a88458" stroke="#35220f" stroke-width="0.7"/>
<circle cx="476.72" cy="166.20" r="1.22" fill="#a88458" stroke="#35220f" stroke-width="0.7"/>
<circle cx="480.44" cy="166.20" r="1.22" fill="#a88458" stroke="#35220f" stroke-width="0.7"/>
<circle cx="484.16" cy="166.20" r="1.22" fill="#a88458" stroke="#35220f" stroke-width="0.7"/>
<circle cx="467.42" cy="175.10" r="1.22" fill="#a88458" stroke="#35220f" stroke-width="0.7"/>
<circle cx="471.14" cy="175.10" r="1.22" fill="#a88458" stroke="#35220f" stroke-width="0.7"/>
<circle cx="474.86" cy="175.10" r="1.22" fill="#a88458" stroke="#35220f" stroke-width="0.7"/>
<circle cx="478.58" cy="175.10" r="1.22" fill="#a88458" stroke="#35220f" stroke-width="0.7"/>
<circle cx="463.70" cy="179.80" r="1.22" fill="#a88458" stroke="#35220f" stroke-width="0.7"/>
<circle cx="467.42" cy="179.80" r="1.22" fill="#a88458" stroke="#35220f" stroke-width="0.7"/>
<circle cx="471.14" cy="179.80" r="1.22" fill="#a88458" stroke="#35220f" stroke-width="0.7"/>
<circle cx="474.86" cy="179.80" r="1.22" fill="#a88458" stroke="#35220f" stroke-width="0.7"/>
<circle cx="478.58" cy="179.80" r="1.22" fill="#a88458" stroke="#35220f" stroke-width="0.7"/>
<circle cx="482.30" cy="179.80" r="1.22" fill="#a88458" stroke="#35220f" stroke-width="0.7"/>
<circle cx="467.42" cy="184.50" r="1.22" fill="#a88458" stroke="#35220f" stroke-width="0.7"/>
<circle cx="471.14" cy="184.50" r="1.22" fill="#a88458" stroke="#35220f" stroke-width="0.7"/>
<circle cx="474.86" cy="184.50" r="1.22" fill="#a88458" stroke="#35220f" stroke-width="0.7"/>
<circle cx="478.58" cy="184.50" r="1.22" fill="#a88458" stroke="#35220f" stroke-width="0.7"/>
<circle cx="456.30" cy="191.10" r="1.22" fill="#a88458" stroke="#35220f" stroke-width="0.7"/>
<circle cx="459.64" cy="191.10" r="1.22" fill="#a88458" stroke="#35220f" stroke-width="0.7"/>
<circle cx="462.98" cy="191.10" r="1.22" fill="#a88458" stroke="#35220f" stroke-width="0.7"/>
<circle cx="466.32" cy="191.10" r="1.22" fill="#a88458" stroke="#35220f" stroke-width="0.7"/>
<circle cx="469.66" cy="191.10" r="1.22" fill="#a88458" stroke="#35220f" stroke-width="0.7"/>
<circle cx="473.00" cy="191.10" r="1.22" fill="#a88458" stroke="#35220f" stroke-width="0.7"/>
<circle cx="476.34" cy="191.10" r="1.22" fill="#a88458" stroke="#35220f" stroke-width="0.7"/>
<circle cx="479.68" cy="191.10" r="1.22" fill="#a88458" stroke="#35220f" stroke-width="0.7"/>
<circle cx="483.02" cy="191.10" r="1.22" fill="#a88458" stroke="#35220f" stroke-width="0.7"/>
<circle cx="486.36" cy="191.10" r="1.22" fill="#a88458" stroke="#35220f" stroke-width="0.7"/>
<circle cx="489.70" cy="191.10" r="1.22" fill="#a88458" stroke="#35220f" stroke-width="0.7"/>
<line x1="448.00" y1="177.00" x2="497.50" y2="177.00" stroke="#2a1a0a" stroke-width="1.3"/>
<line x1="298.5" y1="146.2" x2="513.3" y2="146.2" stroke="#444" stroke-width="0.8" stroke-dasharray="1,1.2"/>
<text x="6.60" y="261.00" font-size="10.6" text-anchor="start" fill="#111" font-weight="bold">C</text>
<text x="66.70" y="274.10" font-size="9.0" text-anchor="start" fill="#1e1e1e" font-weight="normal" textLength="156.3" lengthAdjust="spacingAndGlyphs" stroke="#1e1e1e" stroke-width="0.12">Grade of CRS by CAR-T Cell Expansion</text>
<line x1="37.50" y1="279.30" x2="37.50" y2="436.70" stroke="#222" stroke-width="1.2"/>
<line x1="36.90" y1="436.10" x2="252.50" y2="436.10" stroke="#222" stroke-width="1.2"/>
<line x1="34.30" y1="428.70" x2="37.50" y2="428.70" stroke="#222" stroke-width="0.9"/>
<text x="27.50" y="431.40" font-size="6.9" text-anchor="end" fill="#222" font-weight="normal" textLength="7.0" lengthAdjust="spacingAndGlyphs">10</text>
<text x="28.60" y="428.50" font-size="5.8" text-anchor="start" fill="#333" font-weight="normal">0</text>
<line x1="35.60" y1="419.89" x2="37.50" y2="419.89" stroke="#333" stroke-width="0.75"/>
<line x1="35.60" y1="414.73" x2="37.50" y2="414.73" stroke="#333" stroke-width="0.75"/>
<line x1="35.60" y1="411.07" x2="37.50" y2="411.07" stroke="#333" stroke-width="0.75"/>
<line x1="35.60" y1="408.23" x2="37.50" y2="408.23" stroke="#333" stroke-width="0.75"/>
<line x1="35.60" y1="405.92" x2="37.50" y2="405.92" stroke="#333" stroke-width="0.75"/>
<line x1="35.60" y1="403.96" x2="37.50" y2="403.96" stroke="#333" stroke-width="0.75"/>
<line x1="35.60" y1="402.26" x2="37.50" y2="402.26" stroke="#333" stroke-width="0.75"/>
<line x1="35.60" y1="400.76" x2="37.50" y2="400.76" stroke="#333" stroke-width="0.75"/>
<line x1="34.30" y1="399.42" x2="37.50" y2="399.42" stroke="#222" stroke-width="0.9"/>
<text x="27.50" y="402.12" font-size="6.9" text-anchor="end" fill="#222" font-weight="normal" textLength="7.0" lengthAdjust="spacingAndGlyphs">10</text>
<text x="28.60" y="399.22" font-size="5.8" text-anchor="start" fill="#333" font-weight="normal">1</text>
<line x1="35.60" y1="390.61" x2="37.50" y2="390.61" stroke="#333" stroke-width="0.75"/>
<line x1="35.60" y1="385.45" x2="37.50" y2="385.45" stroke="#333" stroke-width="0.75"/>
<line x1="35.60" y1="381.79" x2="37.50" y2="381.79" stroke="#333" stroke-width="0.75"/>
<line x1="35.60" y1="378.95" x2="37.50" y2="378.95" stroke="#333" stroke-width="0.75"/>
<line x1="35.60" y1="376.64" x2="37.50" y2="376.64" stroke="#333" stroke-width="0.75"/>
<line x1="35.60" y1="374.68" x2="37.50" y2="374.68" stroke="#333" stroke-width="0.75"/>
<line x1="35.60" y1="372.98" x2="37.50" y2="372.98" stroke="#333" stroke-width="0.75"/>
<line x1="35.60" y1="371.48" x2="37.50" y2="371.48" stroke="#333" stroke-width="0.75"/>
<line x1="34.30" y1="370.14" x2="37.50" y2="370.14" stroke="#222" stroke-width="0.9"/>
<text x="27.50" y="372.84" font-size="6.9" text-anchor="end" fill="#222" font-weight="normal" textLength="7.0" lengthAdjust="spacingAndGlyphs">10</text>
<text x="28.60" y="369.94" font-size="5.8" text-anchor="start" fill="#333" font-weight="normal">2</text>
<line x1="35.60" y1="361.33" x2="37.50" y2="361.33" stroke="#333" stroke-width="0.75"/>
<line x1="35.60" y1="356.17" x2="37.50" y2="356.17" stroke="#333" stroke-width="0.75"/>
<line x1="35.60" y1="352.51" x2="37.50" y2="352.51" stroke="#333" stroke-width="0.75"/>
<line x1="35.60" y1="349.67" x2="37.50" y2="349.67" stroke="#333" stroke-width="0.75"/>
<line x1="35.60" y1="347.36" x2="37.50" y2="347.36" stroke="#333" stroke-width="0.75"/>
<line x1="35.60" y1="345.40" x2="37.50" y2="345.40" stroke="#333" stroke-width="0.75"/>
<line x1="35.60" y1="343.70" x2="37.50" y2="343.70" stroke="#333" stroke-width="0.75"/>
<line x1="35.60" y1="342.20" x2="37.50" y2="342.20" stroke="#333" stroke-width="0.75"/>
<line x1="34.30" y1="340.86" x2="37.50" y2="340.86" stroke="#222" stroke-width="0.9"/>
<text x="27.50" y="343.56" font-size="6.9" text-anchor="end" fill="#222" font-weight="normal" textLength="7.0" lengthAdjust="spacingAndGlyphs">10</text>
<text x="28.60" y="340.66" font-size="5.8" text-anchor="start" fill="#333" font-weight="normal">3</text>
<line x1="35.60" y1="332.05" x2="37.50" y2="332.05" stroke="#333" stroke-width="0.75"/>
<line x1="35.60" y1="326.89" x2="37.50" y2="326.89" stroke="#333" stroke-width="0.75"/>
<line x1="35.60" y1="323.23" x2="37.50" y2="323.23" stroke="#333" stroke-width="0.75"/>
<line x1="35.60" y1="320.39" x2="37.50" y2="320.39" stroke="#333" stroke-width="0.75"/>
<line x1="35.60" y1="318.08" x2="37.50" y2="318.08" stroke="#333" stroke-width="0.75"/>
<line x1="35.60" y1="316.12" x2="37.50" y2="316.12" stroke="#333" stroke-width="0.75"/>
<line x1="35.60" y1="314.42" x2="37.50" y2="314.42" stroke="#333" stroke-width="0.75"/>
<line x1="35.60" y1="312.92" x2="37.50" y2="312.92" stroke="#333" stroke-width="0.75"/>
<line x1="34.30" y1="311.58" x2="37.50" y2="311.58" stroke="#222" stroke-width="0.9"/>
<text x="27.50" y="314.28" font-size="6.9" text-anchor="end" fill="#222" font-weight="normal" textLength="7.0" lengthAdjust="spacingAndGlyphs">10</text>
<text x="28.60" y="311.38" font-size="5.8" text-anchor="start" fill="#333" font-weight="normal">4</text>
<line x1="35.60" y1="302.77" x2="37.50" y2="302.77" stroke="#333" stroke-width="0.75"/>
<line x1="35.60" y1="297.61" x2="37.50" y2="297.61" stroke="#333" stroke-width="0.75"/>
<line x1="35.60" y1="293.95" x2="37.50" y2="293.95" stroke="#333" stroke-width="0.75"/>
<line x1="35.60" y1="291.11" x2="37.50" y2="291.11" stroke="#333" stroke-width="0.75"/>
<line x1="35.60" y1="288.80" x2="37.50" y2="288.80" stroke="#333" stroke-width="0.75"/>
<line x1="35.60" y1="286.84" x2="37.50" y2="286.84" stroke="#333" stroke-width="0.75"/>
<line x1="35.60" y1="285.14" x2="37.50" y2="285.14" stroke="#333" stroke-width="0.75"/>
<line x1="35.60" y1="283.64" x2="37.50" y2="283.64" stroke="#333" stroke-width="0.75"/>
<line x1="34.30" y1="282.30" x2="37.50" y2="282.30" stroke="#222" stroke-width="0.9"/>
<text x="27.50" y="285.00" font-size="6.9" text-anchor="end" fill="#222" font-weight="normal" textLength="7.0" lengthAdjust="spacingAndGlyphs">10</text>
<text x="28.60" y="282.10" font-size="5.8" text-anchor="start" fill="#333" font-weight="normal">5</text>
<text x="0" y="0" font-size="9.0" text-anchor="middle" fill="#222" stroke="#222" stroke-width="0.25" textLength="68.4" lengthAdjust="spacingAndGlyphs" transform="translate(14.20,357.90) rotate(-90)">CAR AUC <tspan font-style="italic">(day x cells/µl)</tspan></text>
<line x1="95.90" y1="436.20" x2="95.90" y2="438.40" stroke="#222" stroke-width="0.9"/>
<text x="95.90" y="448.60" font-size="7" text-anchor="middle" fill="#222" font-weight="normal">0-1</text>
<text x="96.20" y="455.40" font-size="7" text-anchor="middle" fill="#222" font-weight="normal" textLength="21" lengthAdjust="spacingAndGlyphs">n = 72</text>
<line x1="193.50" y1="436.20" x2="193.50" y2="438.40" stroke="#222" stroke-width="0.9"/>
<text x="193.50" y="448.60" font-size="7" text-anchor="middle" fill="#222" font-weight="normal">2-3</text>
<text x="193.80" y="455.40" font-size="7" text-anchor="middle" fill="#222" font-weight="normal" textLength="21" lengthAdjust="spacingAndGlyphs">n = 88</text>
<text x="130.00" y="467.50" font-size="8.3" text-anchor="start" fill="#2a2a2a" font-weight="bold" textLength="30.2" lengthAdjust="spacingAndGlyphs">CRS grade</text>
<path d="M95.90,304.90 V301.90 H193.50 V304.90" fill="none" stroke="#555" stroke-width="0.8"/>
<circle cx="140.05" cy="297.00" r="0.95" fill="#222"/>
<circle cx="143.15" cy="297.00" r="0.95" fill="#222"/>
<circle cx="146.25" cy="297.00" r="0.95" fill="#222"/>
<circle cx="149.35" cy="297.00" r="0.95" fill="#222"/>
<line x1="95.90" y1="330.30" x2="95.90" y2="422.30" stroke="#3a4a55" stroke-width="0.9"/>
<rect x="59.40" y="355.10" width="73.10" height="28.70" fill="#acd3f2"/>
<circle cx="94.04" cy="310.50" r="1.22" fill="#1a5666" stroke="#203238" stroke-width="0.7" fill-opacity="0.75"/>
<circle cx="97.76" cy="310.50" r="1.22" fill="#1a5666" stroke="#203238" stroke-width="0.7" fill-opacity="0.75"/>
<circle cx="92.18" cy="330.30" r="1.22" fill="#1a5666" stroke="#203238" stroke-width="0.7" fill-opacity="0.75"/>
<circle cx="95.90" cy="330.30" r="1.22" fill="#1a5666" stroke="#203238" stroke-width="0.7" fill-opacity="0.75"/>
<circle cx="99.62" cy="330.30" r="1.22" fill="#1a5666" stroke="#203238" stroke-width="0.7" fill-opacity="0.75"/>
<circle cx="94.04" cy="342.00" r="1.22" fill="#1a5666" stroke="#203238" stroke-width="0.7" fill-opacity="0.75"/>
<circle cx="97.76" cy="342.00" r="1.22" fill="#1a5666" stroke="#203238" stroke-width="0.7" fill-opacity="0.75"/>
<circle cx="86.60" cy="348.00" r="1.22" fill="#1a5666" stroke="#203238" stroke-width="0.7" fill-opacity="0.75"/>
<circle cx="90.32" cy="348.00" r="1.22" fill="#1a5666" stroke="#203238" stroke-width="0.7" fill-opacity="0.75"/>
<circle cx="94.04" cy="348.00" r="1.22" fill="#1a5666" stroke="#203238" stroke-width="0.7" fill-opacity="0.75"/>
<circle cx="97.76" cy="348.00" r="1.22" fill="#1a5666" stroke="#203238" stroke-width="0.7" fill-opacity="0.75"/>
<circle cx="101.48" cy="348.00" r="1.22" fill="#1a5666" stroke="#203238" stroke-width="0.7" fill-opacity="0.75"/>
<circle cx="105.20" cy="348.00" r="1.22" fill="#1a5666" stroke="#203238" stroke-width="0.7" fill-opacity="0.75"/>
<circle cx="84.74" cy="353.80" r="1.22" fill="#1a5666" stroke="#203238" stroke-width="0.7" fill-opacity="0.75"/>
<circle cx="88.46" cy="353.80" r="1.22" fill="#1a5666" stroke="#203238" stroke-width="0.7" fill-opacity="0.75"/>
<circle cx="92.18" cy="353.80" r="1.22" fill="#1a5666" stroke="#203238" stroke-width="0.7" fill-opacity="0.75"/>
<circle cx="95.90" cy="353.80" r="1.22" fill="#1a5666" stroke="#203238" stroke-width="0.7" fill-opacity="0.75"/>
<circle cx="99.62" cy="353.80" r="1.22" fill="#1a5666" stroke="#203238" stroke-width="0.7" fill-opacity="0.75"/>
<circle cx="103.34" cy="353.80" r="1.22" fill="#1a5666" stroke="#203238" stroke-width="0.7" fill-opacity="0.75"/>
<circle cx="107.06" cy="353.80" r="1.22" fill="#1a5666" stroke="#203238" stroke-width="0.7" fill-opacity="0.75"/>
<circle cx="86.60" cy="360.80" r="1.22" fill="#1a5666" stroke="#203238" stroke-width="0.7" fill-opacity="0.75"/>
<circle cx="90.32" cy="360.80" r="1.22" fill="#1a5666" stroke="#203238" stroke-width="0.7" fill-opacity="0.75"/>
<circle cx="94.04" cy="360.80" r="1.22" fill="#1a5666" stroke="#203238" stroke-width="0.7" fill-opacity="0.75"/>
<circle cx="97.76" cy="360.80" r="1.22" fill="#1a5666" stroke="#203238" stroke-width="0.7" fill-opacity="0.75"/>
<circle cx="101.48" cy="360.80" r="1.22" fill="#1a5666" stroke="#203238" stroke-width="0.7" fill-opacity="0.75"/>
<circle cx="105.20" cy="360.80" r="1.22" fill="#1a5666" stroke="#203238" stroke-width="0.7" fill-opacity="0.75"/>
<circle cx="88.46" cy="367.70" r="1.22" fill="#1a5666" stroke="#203238" stroke-width="0.7" fill-opacity="0.75"/>
<circle cx="92.18" cy="367.70" r="1.22" fill="#1a5666" stroke="#203238" stroke-width="0.7" fill-opacity="0.75"/>
<circle cx="95.90" cy="367.70" r="1.22" fill="#1a5666" stroke="#203238" stroke-width="0.7" fill-opacity="0.75"/>
<circle cx="99.62" cy="367.70" r="1.22" fill="#1a5666" stroke="#203238" stroke-width="0.7" fill-opacity="0.75"/>
<circle cx="103.34" cy="367.70" r="1.22" fill="#1a5666" stroke="#203238" stroke-width="0.7" fill-opacity="0.75"/>
<circle cx="81.02" cy="372.00" r="1.22" fill="#1a5666" stroke="#203238" stroke-width="0.7" fill-opacity="0.75"/>
<circle cx="84.74" cy="372.00" r="1.22" fill="#1a5666" stroke="#203238" stroke-width="0.7" fill-opacity="0.75"/>
<circle cx="88.46" cy="372.00" r="1.22" fill="#1a5666" stroke="#203238" stroke-width="0.7" fill-opacity="0.75"/>
<circle cx="92.18" cy="372.00" r="1.22" fill="#1a5666" stroke="#203238" stroke-width="0.7" fill-opacity="0.75"/>
<circle cx="95.90" cy="372.00" r="1.22" fill="#1a5666" stroke="#203238" stroke-width="0.7" fill-opacity="0.75"/>
<circle cx="99.62" cy="372.00" r="1.22" fill="#1a5666" stroke="#203238" stroke-width="0.7" fill-opacity="0.75"/>
<circle cx="103.34" cy="372.00" r="1.22" fill="#1a5666" stroke="#203238" stroke-width="0.7" fill-opacity="0.75"/>
<circle cx="107.06" cy="372.00" r="1.22" fill="#1a5666" stroke="#203238" stroke-width="0.7" fill-opacity="0.75"/>
<circle cx="110.78" cy="372.00" r="1.22" fill="#1a5666" stroke="#203238" stroke-width="0.7" fill-opacity="0.75"/>
<circle cx="79.16" cy="378.00" r="1.22" fill="#1a5666" stroke="#203238" stroke-width="0.7" fill-opacity="0.75"/>
<circle cx="82.88" cy="378.00" r="1.22" fill="#1a5666" stroke="#203238" stroke-width="0.7" fill-opacity="0.75"/>
<circle cx="86.60" cy="378.00" r="1.22" fill="#1a5666" stroke="#203238" stroke-width="0.7" fill-opacity="0.75"/>
<circle cx="90.32" cy="378.00" r="1.22" fill="#1a5666" stroke="#203238" stroke-width="0.7" fill-opacity="0.75"/>
<circle cx="94.04" cy="378.00" r="1.22" fill="#1a5666" stroke="#203238" stroke-width="0.7" fill-opacity="0.75"/>
<circle cx="97.76" cy="378.00" r="1.22" fill="#1a5666" stroke="#203238" stroke-width="0.7" fill-opacity="0.75"/>
<circle cx="101.48" cy="378.00" r="1.22" fill="#1a5666" stroke="#203238" stroke-width="0.7" fill-opacity="0.75"/>
<circle cx="105.20" cy="378.00" r="1.22" fill="#1a5666" stroke="#203238" stroke-width="0.7" fill-opacity="0.75"/>
<circle cx="108.92" cy="378.00" r="1.22" fill="#1a5666" stroke="#203238" stroke-width="0.7" fill-opacity="0.75"/>
<circle cx="112.64" cy="378.00" r="1.22" fill="#1a5666" stroke="#203238" stroke-width="0.7" fill-opacity="0.75"/>
<circle cx="84.74" cy="382.80" r="1.22" fill="#1a5666" stroke="#203238" stroke-width="0.7" fill-opacity="0.75"/>
<circle cx="88.46" cy="382.80" r="1.22" fill="#1a5666" stroke="#203238" stroke-width="0.7" fill-opacity="0.75"/>
<circle cx="92.18" cy="382.80" r="1.22" fill="#1a5666" stroke="#203238" stroke-width="0.7" fill-opacity="0.75"/>
<circle cx="95.90" cy="382.80" r="1.22" fill="#1a5666" stroke="#203238" stroke-width="0.7" fill-opacity="0.75"/>
<circle cx="99.62" cy="382.80" r="1.22" fill="#1a5666" stroke="#203238" stroke-width="0.7" fill-opacity="0.75"/>
<circle cx="103.34" cy="382.80" r="1.22" fill="#1a5666" stroke="#203238" stroke-width="0.7" fill-opacity="0.75"/>
<circle cx="107.06" cy="382.80" r="1.22" fill="#1a5666" stroke="#203238" stroke-width="0.7" fill-opacity="0.75"/>
<circle cx="86.60" cy="388.20" r="1.22" fill="#1a5666" stroke="#203238" stroke-width="0.7" fill-opacity="0.75"/>
<circle cx="90.32" cy="388.20" r="1.22" fill="#1a5666" stroke="#203238" stroke-width="0.7" fill-opacity="0.75"/>
<circle cx="94.04" cy="388.20" r="1.22" fill="#1a5666" stroke="#203238" stroke-width="0.7" fill-opacity="0.75"/>
<circle cx="97.76" cy="388.20" r="1.22" fill="#1a5666" stroke="#203238" stroke-width="0.7" fill-opacity="0.75"/>
<circle cx="101.48" cy="388.20" r="1.22" fill="#1a5666" stroke="#203238" stroke-width="0.7" fill-opacity="0.75"/>
<circle cx="105.20" cy="388.20" r="1.22" fill="#1a5666" stroke="#203238" stroke-width="0.7" fill-opacity="0.75"/>
<circle cx="95.90" cy="396.90" r="1.22" fill="#1a5666" stroke="#203238" stroke-width="0.7" fill-opacity="0.75"/>
<circle cx="92.18" cy="400.80" r="1.22" fill="#1a5666" stroke="#203238" stroke-width="0.7" fill-opacity="0.75"/>
<circle cx="95.90" cy="400.80" r="1.22" fill="#1a5666" stroke="#203238" stroke-width="0.7" fill-opacity="0.75"/>
<circle cx="99.62" cy="400.80" r="1.22" fill="#1a5666" stroke="#203238" stroke-width="0.7" fill-opacity="0.75"/>
<circle cx="94.04" cy="408.20" r="1.22" fill="#1a5666" stroke="#203238" stroke-width="0.7" fill-opacity="0.75"/>
<circle cx="97.76" cy="408.20" r="1.22" fill="#1a5666" stroke="#203238" stroke-width="0.7" fill-opacity="0.75"/>
<circle cx="94.04" cy="415.10" r="1.22" fill="#1a5666" stroke="#203238" stroke-width="0.7" fill-opacity="0.75"/>
<circle cx="97.76" cy="415.10" r="1.22" fill="#1a5666" stroke="#203238" stroke-width="0.7" fill-opacity="0.75"/>
<circle cx="95.90" cy="422.30" r="1.22" fill="#1a5666" stroke="#203238" stroke-width="0.7" fill-opacity="0.75"/>
<line x1="59.40" y1="373.50" x2="132.50" y2="373.50" stroke="#1e3a4a" stroke-width="1.3"/>
<line x1="193.50" y1="308.00" x2="193.50" y2="394.00" stroke="#4a2a3a" stroke-width="0.9"/>
<rect x="156.80" y="344.20" width="73.20" height="25.00" fill="#f29fc7"/>
<circle cx="193.50" cy="308.00" r="1.22" fill="#6e1c44" stroke="#3a0c22" stroke-width="0.7"/>
<circle cx="193.50" cy="313.50" r="1.22" fill="#6e1c44" stroke="#3a0c22" stroke-width="0.7"/>
<circle cx="187.92" cy="322.30" r="1.22" fill="#6e1c44" stroke="#3a0c22" stroke-width="0.7"/>
<circle cx="191.64" cy="322.30" r="1.22" fill="#6e1c44" stroke="#3a0c22" stroke-width="0.7"/>
<circle cx="195.36" cy="322.30" r="1.22" fill="#6e1c44" stroke="#3a0c22" stroke-width="0.7"/>
<circle cx="199.08" cy="322.30" r="1.22" fill="#6e1c44" stroke="#3a0c22" stroke-width="0.7"/>
<circle cx="191.64" cy="329.50" r="1.22" fill="#6e1c44" stroke="#3a0c22" stroke-width="0.7"/>
<circle cx="195.36" cy="329.50" r="1.22" fill="#6e1c44" stroke="#3a0c22" stroke-width="0.7"/>
<circle cx="184.20" cy="333.50" r="1.22" fill="#6e1c44" stroke="#3a0c22" stroke-width="0.7"/>
<circle cx="187.92" cy="333.50" r="1.22" fill="#6e1c44" stroke="#3a0c22" stroke-width="0.7"/>
<circle cx="191.64" cy="333.50" r="1.22" fill="#6e1c44" stroke="#3a0c22" stroke-width="0.7"/>
<circle cx="195.36" cy="333.50" r="1.22" fill="#6e1c44" stroke="#3a0c22" stroke-width="0.7"/>
<circle cx="199.08" cy="333.50" r="1.22" fill="#6e1c44" stroke="#3a0c22" stroke-width="0.7"/>
<circle cx="202.80" cy="333.50" r="1.22" fill="#6e1c44" stroke="#3a0c22" stroke-width="0.7"/>
<circle cx="180.48" cy="339.20" r="1.22" fill="#6e1c44" stroke="#3a0c22" stroke-width="0.7"/>
<circle cx="184.20" cy="339.20" r="1.22" fill="#6e1c44" stroke="#3a0c22" stroke-width="0.7"/>
<circle cx="187.92" cy="339.20" r="1.22" fill="#6e1c44" stroke="#3a0c22" stroke-width="0.7"/>
<circle cx="191.64" cy="339.20" r="1.22" fill="#6e1c44" stroke="#3a0c22" stroke-width="0.7"/>
<circle cx="195.36" cy="339.20" r="1.22" fill="#6e1c44" stroke="#3a0c22" stroke-width="0.7"/>
<circle cx="199.08" cy="339.20" r="1.22" fill="#6e1c44" stroke="#3a0c22" stroke-width="0.7"/>
<circle cx="202.80" cy="339.20" r="1.22" fill="#6e1c44" stroke="#3a0c22" stroke-width="0.7"/>
<circle cx="206.52" cy="339.20" r="1.22" fill="#6e1c44" stroke="#3a0c22" stroke-width="0.7"/>
<circle cx="178.62" cy="345.80" r="1.22" fill="#6e1c44" stroke="#3a0c22" stroke-width="0.7"/>
<circle cx="182.34" cy="345.80" r="1.22" fill="#6e1c44" stroke="#3a0c22" stroke-width="0.7"/>
<circle cx="186.06" cy="345.80" r="1.22" fill="#6e1c44" stroke="#3a0c22" stroke-width="0.7"/>
<circle cx="189.78" cy="345.80" r="1.22" fill="#6e1c44" stroke="#3a0c22" stroke-width="0.7"/>
<circle cx="193.50" cy="345.80" r="1.22" fill="#6e1c44" stroke="#3a0c22" stroke-width="0.7"/>
<circle cx="197.22" cy="345.80" r="1.22" fill="#6e1c44" stroke="#3a0c22" stroke-width="0.7"/>
<circle cx="200.94" cy="345.80" r="1.22" fill="#6e1c44" stroke="#3a0c22" stroke-width="0.7"/>
<circle cx="204.66" cy="345.80" r="1.22" fill="#6e1c44" stroke="#3a0c22" stroke-width="0.7"/>
<circle cx="208.38" cy="345.80" r="1.22" fill="#6e1c44" stroke="#3a0c22" stroke-width="0.7"/>
<circle cx="180.48" cy="351.20" r="1.22" fill="#6e1c44" stroke="#3a0c22" stroke-width="0.7"/>
<circle cx="184.20" cy="351.20" r="1.22" fill="#6e1c44" stroke="#3a0c22" stroke-width="0.7"/>
<circle cx="187.92" cy="351.20" r="1.22" fill="#6e1c44" stroke="#3a0c22" stroke-width="0.7"/>
<circle cx="191.64" cy="351.20" r="1.22" fill="#6e1c44" stroke="#3a0c22" stroke-width="0.7"/>
<circle cx="195.36" cy="351.20" r="1.22" fill="#6e1c44" stroke="#3a0c22" stroke-width="0.7"/>
<circle cx="199.08" cy="351.20" r="1.22" fill="#6e1c44" stroke="#3a0c22" stroke-width="0.7"/>
<circle cx="202.80" cy="351.20" r="1.22" fill="#6e1c44" stroke="#3a0c22" stroke-width="0.7"/>
<circle cx="206.52" cy="351.20" r="1.22" fill="#6e1c44" stroke="#3a0c22" stroke-width="0.7"/>
<circle cx="180.48" cy="357.70" r="1.22" fill="#6e1c44" stroke="#3a0c22" stroke-width="0.7"/>
<circle cx="184.20" cy="357.70" r="1.22" fill="#6e1c44" stroke="#3a0c22" stroke-width="0.7"/>
<circle cx="187.92" cy="357.70" r="1.22" fill="#6e1c44" stroke="#3a0c22" stroke-width="0.7"/>
<circle cx="191.64" cy="357.70" r="1.22" fill="#6e1c44" stroke="#3a0c22" stroke-width="0.7"/>
<circle cx="195.36" cy="357.70" r="1.22" fill="#6e1c44" stroke="#3a0c22" stroke-width="0.7"/>
<circle cx="199.08" cy="357.70" r="1.22" fill="#6e1c44" stroke="#3a0c22" stroke-width="0.7"/>
<circle cx="202.80" cy="357.70" r="1.22" fill="#6e1c44" stroke="#3a0c22" stroke-width="0.7"/>
<circle cx="206.52" cy="357.70" r="1.22" fill="#6e1c44" stroke="#3a0c22" stroke-width="0.7"/>
<circle cx="171.18" cy="362.60" r="1.22" fill="#6e1c44" stroke="#3a0c22" stroke-width="0.7"/>
<circle cx="174.90" cy="362.60" r="1.22" fill="#6e1c44" stroke="#3a0c22" stroke-width="0.7"/>
<circle cx="178.62" cy="362.60" r="1.22" fill="#6e1c44" stroke="#3a0c22" stroke-width="0.7"/>
<circle cx="182.34" cy="362.60" r="1.22" fill="#6e1c44" stroke="#3a0c22" stroke-width="0.7"/>
<circle cx="186.06" cy="362.60" r="1.22" fill="#6e1c44" stroke="#3a0c22" stroke-width="0.7"/>
<circle cx="189.78" cy="362.60" r="1.22" fill="#6e1c44" stroke="#3a0c22" stroke-width="0.7"/>
<circle cx="193.50" cy="362.60" r="1.22" fill="#6e1c44" stroke="#3a0c22" stroke-width="0.7"/>
<circle cx="197.22" cy="362.60" r="1.22" fill="#6e1c44" stroke="#3a0c22" stroke-width="0.7"/>
<circle cx="200.94" cy="362.60" r="1.22" fill="#6e1c44" stroke="#3a0c22" stroke-width="0.7"/>
<circle cx="204.66" cy="362.60" r="1.22" fill="#6e1c44" stroke="#3a0c22" stroke-width="0.7"/>
<circle cx="208.38" cy="362.60" r="1.22" fill="#6e1c44" stroke="#3a0c22" stroke-width="0.7"/>
<circle cx="212.10" cy="362.60" r="1.22" fill="#6e1c44" stroke="#3a0c22" stroke-width="0.7"/>
<circle cx="215.82" cy="362.60" r="1.22" fill="#6e1c44" stroke="#3a0c22" stroke-width="0.7"/>
<circle cx="182.34" cy="367.70" r="1.22" fill="#6e1c44" stroke="#3a0c22" stroke-width="0.7"/>
<circle cx="186.06" cy="367.70" r="1.22" fill="#6e1c44" stroke="#3a0c22" stroke-width="0.7"/>
<circle cx="189.78" cy="367.70" r="1.22" fill="#6e1c44" stroke="#3a0c22" stroke-width="0.7"/>
<circle cx="193.50" cy="367.70" r="1.22" fill="#6e1c44" stroke="#3a0c22" stroke-width="0.7"/>
<circle cx="197.22" cy="367.70" r="1.22" fill="#6e1c44" stroke="#3a0c22" stroke-width="0.7"/>
<circle cx="200.94" cy="367.70" r="1.22" fill="#6e1c44" stroke="#3a0c22" stroke-width="0.7"/>
<circle cx="204.66" cy="367.70" r="1.22" fill="#6e1c44" stroke="#3a0c22" stroke-width="0.7"/>
<circle cx="182.34" cy="372.30" r="1.22" fill="#6e1c44" stroke="#3a0c22" stroke-width="0.7"/>
<circle cx="186.06" cy="372.30" r="1.22" fill="#6e1c44" stroke="#3a0c22" stroke-width="0.7"/>
<circle cx="189.78" cy="372.30" r="1.22" fill="#6e1c44" stroke="#3a0c22" stroke-width="0.7"/>
<circle cx="193.50" cy="372.30" r="1.22" fill="#6e1c44" stroke="#3a0c22" stroke-width="0.7"/>
<circle cx="197.22" cy="372.30" r="1.22" fill="#6e1c44" stroke="#3a0c22" stroke-width="0.7"/>
<circle cx="200.94" cy="372.30" r="1.22" fill="#6e1c44" stroke="#3a0c22" stroke-width="0.7"/>
<circle cx="204.66" cy="372.30" r="1.22" fill="#6e1c44" stroke="#3a0c22" stroke-width="0.7"/>
<circle cx="187.92" cy="378.90" r="1.22" fill="#6e1c44" stroke="#3a0c22" stroke-width="0.7"/>
<circle cx="191.64" cy="378.90" r="1.22" fill="#6e1c44" stroke="#3a0c22" stroke-width="0.7"/>
<circle cx="195.36" cy="378.90" r="1.22" fill="#6e1c44" stroke="#3a0c22" stroke-width="0.7"/>
<circle cx="199.08" cy="378.90" r="1.22" fill="#6e1c44" stroke="#3a0c22" stroke-width="0.7"/>
<circle cx="189.78" cy="385.10" r="1.22" fill="#6e1c44" stroke="#3a0c22" stroke-width="0.7"/>
<circle cx="193.50" cy="385.10" r="1.22" fill="#6e1c44" stroke="#3a0c22" stroke-width="0.7"/>
<circle cx="197.22" cy="385.10" r="1.22" fill="#6e1c44" stroke="#3a0c22" stroke-width="0.7"/>
<circle cx="189.78" cy="392.30" r="1.22" fill="#6e1c44" stroke="#3a0c22" stroke-width="0.7"/>
<circle cx="193.50" cy="392.30" r="1.22" fill="#6e1c44" stroke="#3a0c22" stroke-width="0.7"/>
<circle cx="197.22" cy="392.30" r="1.22" fill="#6e1c44" stroke="#3a0c22" stroke-width="0.7"/>
<circle cx="191.64" cy="414.60" r="1.22" fill="#6e1c44" stroke="#3a0c22" stroke-width="0.7"/>
<circle cx="195.36" cy="414.60" r="1.22" fill="#6e1c44" stroke="#3a0c22" stroke-width="0.7"/>
<circle cx="191.64" cy="422.30" r="1.22" fill="#6e1c44" stroke="#3a0c22" stroke-width="0.7"/>
<circle cx="195.36" cy="422.30" r="1.22" fill="#6e1c44" stroke="#3a0c22" stroke-width="0.7"/>
<line x1="156.80" y1="358.90" x2="230.00" y2="358.90" stroke="#4a1030" stroke-width="1.3"/>
<text x="267.60" y="261.00" font-size="10.6" text-anchor="start" fill="#111" font-weight="bold">D</text>
<text x="304.60" y="274.30" font-size="9.0" text-anchor="start" fill="#1e1e1e" font-weight="normal" textLength="202.3" lengthAdjust="spacingAndGlyphs" stroke="#1e1e1e" stroke-width="0.12">Need for GCSF after D14 by CAR-T Cell Expansion</text>
<line x1="298.30" y1="279.30" x2="298.30" y2="436.80" stroke="#222" stroke-width="1.2"/>
<line x1="297.70" y1="436.20" x2="513.30" y2="436.20" stroke="#222" stroke-width="1.2"/>
<line x1="295.10" y1="428.70" x2="298.30" y2="428.70" stroke="#222" stroke-width="0.9"/>
<text x="288.30" y="431.40" font-size="6.9" text-anchor="end" fill="#222" font-weight="normal" textLength="7.0" lengthAdjust="spacingAndGlyphs">10</text>
<text x="289.40" y="428.50" font-size="5.8" text-anchor="start" fill="#333" font-weight="normal">0</text>
<line x1="296.40" y1="419.89" x2="298.30" y2="419.89" stroke="#333" stroke-width="0.75"/>
<line x1="296.40" y1="414.73" x2="298.30" y2="414.73" stroke="#333" stroke-width="0.75"/>
<line x1="296.40" y1="411.07" x2="298.30" y2="411.07" stroke="#333" stroke-width="0.75"/>
<line x1="296.40" y1="408.23" x2="298.30" y2="408.23" stroke="#333" stroke-width="0.75"/>
<line x1="296.40" y1="405.92" x2="298.30" y2="405.92" stroke="#333" stroke-width="0.75"/>
<line x1="296.40" y1="403.96" x2="298.30" y2="403.96" stroke="#333" stroke-width="0.75"/>
<line x1="296.40" y1="402.26" x2="298.30" y2="402.26" stroke="#333" stroke-width="0.75"/>
<line x1="296.40" y1="400.76" x2="298.30" y2="400.76" stroke="#333" stroke-width="0.75"/>
<line x1="295.10" y1="399.42" x2="298.30" y2="399.42" stroke="#222" stroke-width="0.9"/>
<text x="288.30" y="402.12" font-size="6.9" text-anchor="end" fill="#222" font-weight="normal" textLength="7.0" lengthAdjust="spacingAndGlyphs">10</text>
<text x="289.40" y="399.22" font-size="5.8" text-anchor="start" fill="#333" font-weight="normal">1</text>
<line x1="296.40" y1="390.61" x2="298.30" y2="390.61" stroke="#333" stroke-width="0.75"/>
<line x1="296.40" y1="385.45" x2="298.30" y2="385.45" stroke="#333" stroke-width="0.75"/>
<line x1="296.40" y1="381.79" x2="298.30" y2="381.79" stroke="#333" stroke-width="0.75"/>
<line x1="296.40" y1="378.95" x2="298.30" y2="378.95" stroke="#333" stroke-width="0.75"/>
<line x1="296.40" y1="376.64" x2="298.30" y2="376.64" stroke="#333" stroke-width="0.75"/>
<line x1="296.40" y1="374.68" x2="298.30" y2="374.68" stroke="#333" stroke-width="0.75"/>
<line x1="296.40" y1="372.98" x2="298.30" y2="372.98" stroke="#333" stroke-width="0.75"/>
<line x1="296.40" y1="371.48" x2="298.30" y2="371.48" stroke="#333" stroke-width="0.75"/>
<line x1="295.10" y1="370.14" x2="298.30" y2="370.14" stroke="#222" stroke-width="0.9"/>
<text x="288.30" y="372.84" font-size="6.9" text-anchor="end" fill="#222" font-weight="normal" textLength="7.0" lengthAdjust="spacingAndGlyphs">10</text>
<text x="289.40" y="369.94" font-size="5.8" text-anchor="start" fill="#333" font-weight="normal">2</text>
<line x1="296.40" y1="361.33" x2="298.30" y2="361.33" stroke="#333" stroke-width="0.75"/>
<line x1="296.40" y1="356.17" x2="298.30" y2="356.17" stroke="#333" stroke-width="0.75"/>
<line x1="296.40" y1="352.51" x2="298.30" y2="352.51" stroke="#333" stroke-width="0.75"/>
<line x1="296.40" y1="349.67" x2="298.30" y2="349.67" stroke="#333" stroke-width="0.75"/>
<line x1="296.40" y1="347.36" x2="298.30" y2="347.36" stroke="#333" stroke-width="0.75"/>
<line x1="296.40" y1="345.40" x2="298.30" y2="345.40" stroke="#333" stroke-width="0.75"/>
<line x1="296.40" y1="343.70" x2="298.30" y2="343.70" stroke="#333" stroke-width="0.75"/>
<line x1="296.40" y1="342.20" x2="298.30" y2="342.20" stroke="#333" stroke-width="0.75"/>
<line x1="295.10" y1="340.86" x2="298.30" y2="340.86" stroke="#222" stroke-width="0.9"/>
<text x="288.30" y="343.56" font-size="6.9" text-anchor="end" fill="#222" font-weight="normal" textLength="7.0" lengthAdjust="spacingAndGlyphs">10</text>
<text x="289.40" y="340.66" font-size="5.8" text-anchor="start" fill="#333" font-weight="normal">3</text>
<line x1="296.40" y1="332.05" x2="298.30" y2="332.05" stroke="#333" stroke-width="0.75"/>
<line x1="296.40" y1="326.89" x2="298.30" y2="326.89" stroke="#333" stroke-width="0.75"/>
<line x1="296.40" y1="323.23" x2="298.30" y2="323.23" stroke="#333" stroke-width="0.75"/>
<line x1="296.40" y1="320.39" x2="298.30" y2="320.39" stroke="#333" stroke-width="0.75"/>
<line x1="296.40" y1="318.08" x2="298.30" y2="318.08" stroke="#333" stroke-width="0.75"/>
<line x1="296.40" y1="316.12" x2="298.30" y2="316.12" stroke="#333" stroke-width="0.75"/>
<line x1="296.40" y1="314.42" x2="298.30" y2="314.42" stroke="#333" stroke-width="0.75"/>
<line x1="296.40" y1="312.92" x2="298.30" y2="312.92" stroke="#333" stroke-width="0.75"/>
<line x1="295.10" y1="311.58" x2="298.30" y2="311.58" stroke="#222" stroke-width="0.9"/>
<text x="288.30" y="314.28" font-size="6.9" text-anchor="end" fill="#222" font-weight="normal" textLength="7.0" lengthAdjust="spacingAndGlyphs">10</text>
<text x="289.40" y="311.38" font-size="5.8" text-anchor="start" fill="#333" font-weight="normal">4</text>
<line x1="296.40" y1="302.77" x2="298.30" y2="302.77" stroke="#333" stroke-width="0.75"/>
<line x1="296.40" y1="297.61" x2="298.30" y2="297.61" stroke="#333" stroke-width="0.75"/>
<line x1="296.40" y1="293.95" x2="298.30" y2="293.95" stroke="#333" stroke-width="0.75"/>
<line x1="296.40" y1="291.11" x2="298.30" y2="291.11" stroke="#333" stroke-width="0.75"/>
<line x1="296.40" y1="288.80" x2="298.30" y2="288.80" stroke="#333" stroke-width="0.75"/>
<line x1="296.40" y1="286.84" x2="298.30" y2="286.84" stroke="#333" stroke-width="0.75"/>
<line x1="296.40" y1="285.14" x2="298.30" y2="285.14" stroke="#333" stroke-width="0.75"/>
<line x1="296.40" y1="283.64" x2="298.30" y2="283.64" stroke="#333" stroke-width="0.75"/>
<line x1="295.10" y1="282.30" x2="298.30" y2="282.30" stroke="#222" stroke-width="0.9"/>
<text x="288.30" y="285.00" font-size="6.9" text-anchor="end" fill="#222" font-weight="normal" textLength="7.0" lengthAdjust="spacingAndGlyphs">10</text>
<text x="289.40" y="282.10" font-size="5.8" text-anchor="start" fill="#333" font-weight="normal">5</text>
<text x="0" y="0" font-size="9.0" text-anchor="middle" fill="#222" stroke="#222" stroke-width="0.25" textLength="68.2" lengthAdjust="spacingAndGlyphs" transform="translate(275.20,357.70) rotate(-90)">CAR AUC <tspan font-style="italic">(day x cells/µl)</tspan></text>
<line x1="356.70" y1="436.30" x2="356.70" y2="438.50" stroke="#222" stroke-width="0.9"/>
<text x="356.70" y="448.70" font-size="7" text-anchor="middle" fill="#222" font-weight="normal">No</text>
<text x="357.00" y="455.50" font-size="7" text-anchor="middle" fill="#222" font-weight="normal" textLength="21" lengthAdjust="spacingAndGlyphs">n = 68</text>
<line x1="454.40" y1="436.30" x2="454.40" y2="438.50" stroke="#222" stroke-width="0.9"/>
<text x="454.40" y="448.70" font-size="7" text-anchor="middle" fill="#222" font-weight="normal">Yes</text>
<text x="454.70" y="455.50" font-size="7" text-anchor="middle" fill="#222" font-weight="normal" textLength="21" lengthAdjust="spacingAndGlyphs">n = 92</text>
<text x="383.80" y="467.60" font-size="8.3" text-anchor="start" fill="#2a2a2a" font-weight="bold" textLength="44.0" lengthAdjust="spacingAndGlyphs">GCSF after D14</text>
<path d="M356.70,305.80 V302.80 H454.40 V305.80" fill="none" stroke="#555" stroke-width="0.8"/>
<circle cx="404.00" cy="297.00" r="0.95" fill="#222"/>
<circle cx="407.10" cy="297.00" r="0.95" fill="#222"/>
<line x1="356.70" y1="313.50" x2="356.70" y2="415.40" stroke="#333a50" stroke-width="0.9"/>
<rect x="320.40" y="353.80" width="72.80" height="26.70" fill="#8f9bc0"/>
<circle cx="356.70" cy="313.50" r="1.42" fill="#1c2440"/>
<circle cx="354.84" cy="321.20" r="1.42" fill="#1c2440"/>
<circle cx="358.56" cy="321.20" r="1.42" fill="#1c2440"/>
<circle cx="356.70" cy="339.20" r="1.42" fill="#1c2440"/>
<circle cx="349.26" cy="343.50" r="1.42" fill="#1c2440"/>
<circle cx="352.98" cy="343.50" r="1.42" fill="#1c2440"/>
<circle cx="356.70" cy="343.50" r="1.42" fill="#1c2440"/>
<circle cx="360.42" cy="343.50" r="1.42" fill="#1c2440"/>
<circle cx="364.14" cy="343.50" r="1.42" fill="#1c2440"/>
<circle cx="349.26" cy="348.50" r="1.42" fill="#1c2440"/>
<circle cx="352.98" cy="348.50" r="1.42" fill="#1c2440"/>
<circle cx="356.70" cy="348.50" r="1.42" fill="#1c2440"/>
<circle cx="360.42" cy="348.50" r="1.42" fill="#1c2440"/>
<circle cx="364.14" cy="348.50" r="1.42" fill="#1c2440"/>
<circle cx="349.26" cy="353.80" r="1.42" fill="#1c2440"/>
<circle cx="352.98" cy="353.80" r="1.42" fill="#1c2440"/>
<circle cx="356.70" cy="353.80" r="1.42" fill="#1c2440"/>
<circle cx="360.42" cy="353.80" r="1.42" fill="#1c2440"/>
<circle cx="364.14" cy="353.80" r="1.42" fill="#1c2440"/>
<circle cx="345.54" cy="360.80" r="1.42" fill="#1c2440"/>
<circle cx="349.26" cy="360.80" r="1.42" fill="#1c2440"/>
<circle cx="352.98" cy="360.80" r="1.42" fill="#1c2440"/>
<circle cx="356.70" cy="360.80" r="1.42" fill="#1c2440"/>
<circle cx="360.42" cy="360.80" r="1.42" fill="#1c2440"/>
<circle cx="364.14" cy="360.80" r="1.42" fill="#1c2440"/>
<circle cx="367.86" cy="360.80" r="1.42" fill="#1c2440"/>
<circle cx="347.40" cy="365.90" r="1.42" fill="#1c2440"/>
<circle cx="351.12" cy="365.90" r="1.42" fill="#1c2440"/>
<circle cx="354.84" cy="365.90" r="1.42" fill="#1c2440"/>
<circle cx="358.56" cy="365.90" r="1.42" fill="#1c2440"/>
<circle cx="362.28" cy="365.90" r="1.42" fill="#1c2440"/>
<circle cx="366.00" cy="365.90" r="1.42" fill="#1c2440"/>
<circle cx="338.10" cy="372.10" r="1.42" fill="#1c2440"/>
<circle cx="341.82" cy="372.10" r="1.42" fill="#1c2440"/>
<circle cx="345.54" cy="372.10" r="1.42" fill="#1c2440"/>
<circle cx="349.26" cy="372.10" r="1.42" fill="#1c2440"/>
<circle cx="352.98" cy="372.10" r="1.42" fill="#1c2440"/>
<circle cx="356.70" cy="372.10" r="1.42" fill="#1c2440"/>
<circle cx="360.42" cy="372.10" r="1.42" fill="#1c2440"/>
<circle cx="364.14" cy="372.10" r="1.42" fill="#1c2440"/>
<circle cx="367.86" cy="372.10" r="1.42" fill="#1c2440"/>
<circle cx="371.58" cy="372.10" r="1.42" fill="#1c2440"/>
<circle cx="375.30" cy="372.10" r="1.42" fill="#1c2440"/>
<circle cx="345.54" cy="377.10" r="1.42" fill="#1c2440"/>
<circle cx="349.26" cy="377.10" r="1.42" fill="#1c2440"/>
<circle cx="352.98" cy="377.10" r="1.42" fill="#1c2440"/>
<circle cx="356.70" cy="377.10" r="1.42" fill="#1c2440"/>
<circle cx="360.42" cy="377.10" r="1.42" fill="#1c2440"/>
<circle cx="364.14" cy="377.10" r="1.42" fill="#1c2440"/>
<circle cx="367.86" cy="377.10" r="1.42" fill="#1c2440"/>
<circle cx="345.54" cy="382.70" r="1.42" fill="#1c2440"/>
<circle cx="349.26" cy="382.70" r="1.42" fill="#1c2440"/>
<circle cx="352.98" cy="382.70" r="1.42" fill="#1c2440"/>
<circle cx="356.70" cy="382.70" r="1.42" fill="#1c2440"/>
<circle cx="360.42" cy="382.70" r="1.42" fill="#1c2440"/>
<circle cx="364.14" cy="382.70" r="1.42" fill="#1c2440"/>
<circle cx="367.86" cy="382.70" r="1.42" fill="#1c2440"/>
<circle cx="351.12" cy="388.20" r="1.42" fill="#1c2440"/>
<circle cx="354.84" cy="388.20" r="1.42" fill="#1c2440"/>
<circle cx="358.56" cy="388.20" r="1.42" fill="#1c2440"/>
<circle cx="362.28" cy="388.20" r="1.42" fill="#1c2440"/>
<circle cx="354.84" cy="398.30" r="1.42" fill="#1c2440"/>
<circle cx="358.56" cy="398.30" r="1.42" fill="#1c2440"/>
<circle cx="354.84" cy="408.30" r="1.42" fill="#1c2440"/>
<circle cx="358.56" cy="408.30" r="1.42" fill="#1c2440"/>
<circle cx="352.98" cy="415.40" r="1.42" fill="#1c2440"/>
<circle cx="356.70" cy="415.40" r="1.42" fill="#1c2440"/>
<circle cx="360.42" cy="415.40" r="1.42" fill="#1c2440"/>
<line x1="320.40" y1="370.00" x2="393.20" y2="370.00" stroke="#1a2040" stroke-width="1.3"/>
<line x1="454.40" y1="309.50" x2="454.40" y2="422.10" stroke="#2a3a2a" stroke-width="0.9"/>
<rect x="418.20" y="345.40" width="72.40" height="28.90" fill="#aad89c"/>
<circle cx="450.68" cy="309.50" r="1.22" fill="#3a703a" stroke="#1a2c1a" stroke-width="0.7" fill-opacity="0.9"/>
<circle cx="454.40" cy="309.50" r="1.22" fill="#3a703a" stroke="#1a2c1a" stroke-width="0.7" fill-opacity="0.9"/>
<circle cx="458.12" cy="309.50" r="1.22" fill="#3a703a" stroke="#1a2c1a" stroke-width="0.7" fill-opacity="0.9"/>
<circle cx="452.54" cy="323.80" r="1.22" fill="#3a703a" stroke="#1a2c1a" stroke-width="0.7" fill-opacity="0.9"/>
<circle cx="456.26" cy="323.80" r="1.22" fill="#3a703a" stroke="#1a2c1a" stroke-width="0.7" fill-opacity="0.9"/>
<circle cx="452.54" cy="328.90" r="1.22" fill="#3a703a" stroke="#1a2c1a" stroke-width="0.7" fill-opacity="0.9"/>
<circle cx="456.26" cy="328.90" r="1.22" fill="#3a703a" stroke="#1a2c1a" stroke-width="0.7" fill-opacity="0.9"/>
<circle cx="441.38" cy="332.60" r="1.22" fill="#3a703a" stroke="#1a2c1a" stroke-width="0.7" fill-opacity="0.9"/>
<circle cx="445.10" cy="332.60" r="1.22" fill="#3a703a" stroke="#1a2c1a" stroke-width="0.7" fill-opacity="0.9"/>
<circle cx="448.82" cy="332.60" r="1.22" fill="#3a703a" stroke="#1a2c1a" stroke-width="0.7" fill-opacity="0.9"/>
<circle cx="452.54" cy="332.60" r="1.22" fill="#3a703a" stroke="#1a2c1a" stroke-width="0.7" fill-opacity="0.9"/>
<circle cx="456.26" cy="332.60" r="1.22" fill="#3a703a" stroke="#1a2c1a" stroke-width="0.7" fill-opacity="0.9"/>
<circle cx="459.98" cy="332.60" r="1.22" fill="#3a703a" stroke="#1a2c1a" stroke-width="0.7" fill-opacity="0.9"/>
<circle cx="463.70" cy="332.60" r="1.22" fill="#3a703a" stroke="#1a2c1a" stroke-width="0.7" fill-opacity="0.9"/>
<circle cx="467.42" cy="332.60" r="1.22" fill="#3a703a" stroke="#1a2c1a" stroke-width="0.7" fill-opacity="0.9"/>
<circle cx="443.24" cy="338.20" r="1.22" fill="#3a703a" stroke="#1a2c1a" stroke-width="0.7" fill-opacity="0.9"/>
<circle cx="446.96" cy="338.20" r="1.22" fill="#3a703a" stroke="#1a2c1a" stroke-width="0.7" fill-opacity="0.9"/>
<circle cx="450.68" cy="338.20" r="1.22" fill="#3a703a" stroke="#1a2c1a" stroke-width="0.7" fill-opacity="0.9"/>
<circle cx="454.40" cy="338.20" r="1.22" fill="#3a703a" stroke="#1a2c1a" stroke-width="0.7" fill-opacity="0.9"/>
<circle cx="458.12" cy="338.20" r="1.22" fill="#3a703a" stroke="#1a2c1a" stroke-width="0.7" fill-opacity="0.9"/>
<circle cx="461.84" cy="338.20" r="1.22" fill="#3a703a" stroke="#1a2c1a" stroke-width="0.7" fill-opacity="0.9"/>
<circle cx="465.56" cy="338.20" r="1.22" fill="#3a703a" stroke="#1a2c1a" stroke-width="0.7" fill-opacity="0.9"/>
<circle cx="439.52" cy="346.90" r="1.22" fill="#3a703a" stroke="#1a2c1a" stroke-width="0.7" fill-opacity="0.9"/>
<circle cx="443.24" cy="346.90" r="1.22" fill="#3a703a" stroke="#1a2c1a" stroke-width="0.7" fill-opacity="0.9"/>
<circle cx="446.96" cy="346.90" r="1.22" fill="#3a703a" stroke="#1a2c1a" stroke-width="0.7" fill-opacity="0.9"/>
<circle cx="450.68" cy="346.90" r="1.22" fill="#3a703a" stroke="#1a2c1a" stroke-width="0.7" fill-opacity="0.9"/>
<circle cx="454.40" cy="346.90" r="1.22" fill="#3a703a" stroke="#1a2c1a" stroke-width="0.7" fill-opacity="0.9"/>
<circle cx="458.12" cy="346.90" r="1.22" fill="#3a703a" stroke="#1a2c1a" stroke-width="0.7" fill-opacity="0.9"/>
<circle cx="461.84" cy="346.90" r="1.22" fill="#3a703a" stroke="#1a2c1a" stroke-width="0.7" fill-opacity="0.9"/>
<circle cx="465.56" cy="346.90" r="1.22" fill="#3a703a" stroke="#1a2c1a" stroke-width="0.7" fill-opacity="0.9"/>
<circle cx="469.28" cy="346.90" r="1.22" fill="#3a703a" stroke="#1a2c1a" stroke-width="0.7" fill-opacity="0.9"/>
<circle cx="441.38" cy="351.20" r="1.22" fill="#3a703a" stroke="#1a2c1a" stroke-width="0.7" fill-opacity="0.9"/>
<circle cx="445.10" cy="351.20" r="1.22" fill="#3a703a" stroke="#1a2c1a" stroke-width="0.7" fill-opacity="0.9"/>
<circle cx="448.82" cy="351.20" r="1.22" fill="#3a703a" stroke="#1a2c1a" stroke-width="0.7" fill-opacity="0.9"/>
<circle cx="452.54" cy="351.20" r="1.22" fill="#3a703a" stroke="#1a2c1a" stroke-width="0.7" fill-opacity="0.9"/>
<circle cx="456.26" cy="351.20" r="1.22" fill="#3a703a" stroke="#1a2c1a" stroke-width="0.7" fill-opacity="0.9"/>
<circle cx="459.98" cy="351.20" r="1.22" fill="#3a703a" stroke="#1a2c1a" stroke-width="0.7" fill-opacity="0.9"/>
<circle cx="463.70" cy="351.20" r="1.22" fill="#3a703a" stroke="#1a2c1a" stroke-width="0.7" fill-opacity="0.9"/>
<circle cx="467.42" cy="351.20" r="1.22" fill="#3a703a" stroke="#1a2c1a" stroke-width="0.7" fill-opacity="0.9"/>
<circle cx="439.52" cy="357.70" r="1.22" fill="#3a703a" stroke="#1a2c1a" stroke-width="0.7" fill-opacity="0.9"/>
<circle cx="443.24" cy="357.70" r="1.22" fill="#3a703a" stroke="#1a2c1a" stroke-width="0.7" fill-opacity="0.9"/>
<circle cx="446.96" cy="357.70" r="1.22" fill="#3a703a" stroke="#1a2c1a" stroke-width="0.7" fill-opacity="0.9"/>
<circle cx="450.68" cy="357.70" r="1.22" fill="#3a703a" stroke="#1a2c1a" stroke-width="0.7" fill-opacity="0.9"/>
<circle cx="454.40" cy="357.70" r="1.22" fill="#3a703a" stroke="#1a2c1a" stroke-width="0.7" fill-opacity="0.9"/>
<circle cx="458.12" cy="357.70" r="1.22" fill="#3a703a" stroke="#1a2c1a" stroke-width="0.7" fill-opacity="0.9"/>
<circle cx="461.84" cy="357.70" r="1.22" fill="#3a703a" stroke="#1a2c1a" stroke-width="0.7" fill-opacity="0.9"/>
<circle cx="465.56" cy="357.70" r="1.22" fill="#3a703a" stroke="#1a2c1a" stroke-width="0.7" fill-opacity="0.9"/>
<circle cx="469.28" cy="357.70" r="1.22" fill="#3a703a" stroke="#1a2c1a" stroke-width="0.7" fill-opacity="0.9"/>
<circle cx="435.80" cy="362.60" r="1.22" fill="#3a703a" stroke="#1a2c1a" stroke-width="0.7" fill-opacity="0.9"/>
<circle cx="439.52" cy="362.60" r="1.22" fill="#3a703a" stroke="#1a2c1a" stroke-width="0.7" fill-opacity="0.9"/>
<circle cx="443.24" cy="362.60" r="1.22" fill="#3a703a" stroke="#1a2c1a" stroke-width="0.7" fill-opacity="0.9"/>
<circle cx="446.96" cy="362.60" r="1.22" fill="#3a703a" stroke="#1a2c1a" stroke-width="0.7" fill-opacity="0.9"/>
<circle cx="450.68" cy="362.60" r="1.22" fill="#3a703a" stroke="#1a2c1a" stroke-width="0.7" fill-opacity="0.9"/>
<circle cx="454.40" cy="362.60" r="1.22" fill="#3a703a" stroke="#1a2c1a" stroke-width="0.7" fill-opacity="0.9"/>
<circle cx="458.12" cy="362.60" r="1.22" fill="#3a703a" stroke="#1a2c1a" stroke-width="0.7" fill-opacity="0.9"/>
<circle cx="461.84" cy="362.60" r="1.22" fill="#3a703a" stroke="#1a2c1a" stroke-width="0.7" fill-opacity="0.9"/>
<circle cx="465.56" cy="362.60" r="1.22" fill="#3a703a" stroke="#1a2c1a" stroke-width="0.7" fill-opacity="0.9"/>
<circle cx="469.28" cy="362.60" r="1.22" fill="#3a703a" stroke="#1a2c1a" stroke-width="0.7" fill-opacity="0.9"/>
<circle cx="473.00" cy="362.60" r="1.22" fill="#3a703a" stroke="#1a2c1a" stroke-width="0.7" fill-opacity="0.9"/>
<circle cx="443.24" cy="368.60" r="1.22" fill="#3a703a" stroke="#1a2c1a" stroke-width="0.7" fill-opacity="0.9"/>
<circle cx="446.96" cy="368.60" r="1.22" fill="#3a703a" stroke="#1a2c1a" stroke-width="0.7" fill-opacity="0.9"/>
<circle cx="450.68" cy="368.60" r="1.22" fill="#3a703a" stroke="#1a2c1a" stroke-width="0.7" fill-opacity="0.9"/>
<circle cx="454.40" cy="368.60" r="1.22" fill="#3a703a" stroke="#1a2c1a" stroke-width="0.7" fill-opacity="0.9"/>
<circle cx="458.12" cy="368.60" r="1.22" fill="#3a703a" stroke="#1a2c1a" stroke-width="0.7" fill-opacity="0.9"/>
<circle cx="461.84" cy="368.60" r="1.22" fill="#3a703a" stroke="#1a2c1a" stroke-width="0.7" fill-opacity="0.9"/>
<circle cx="465.56" cy="368.60" r="1.22" fill="#3a703a" stroke="#1a2c1a" stroke-width="0.7" fill-opacity="0.9"/>
<circle cx="445.10" cy="374.60" r="1.22" fill="#3a703a" stroke="#1a2c1a" stroke-width="0.7" fill-opacity="0.9"/>
<circle cx="448.82" cy="374.60" r="1.22" fill="#3a703a" stroke="#1a2c1a" stroke-width="0.7" fill-opacity="0.9"/>
<circle cx="452.54" cy="374.60" r="1.22" fill="#3a703a" stroke="#1a2c1a" stroke-width="0.7" fill-opacity="0.9"/>
<circle cx="456.26" cy="374.60" r="1.22" fill="#3a703a" stroke="#1a2c1a" stroke-width="0.7" fill-opacity="0.9"/>
<circle cx="459.98" cy="374.60" r="1.22" fill="#3a703a" stroke="#1a2c1a" stroke-width="0.7" fill-opacity="0.9"/>
<circle cx="463.70" cy="374.60" r="1.22" fill="#3a703a" stroke="#1a2c1a" stroke-width="0.7" fill-opacity="0.9"/>
<circle cx="443.24" cy="379.60" r="1.22" fill="#3a703a" stroke="#1a2c1a" stroke-width="0.7" fill-opacity="0.9"/>
<circle cx="446.96" cy="379.60" r="1.22" fill="#3a703a" stroke="#1a2c1a" stroke-width="0.7" fill-opacity="0.9"/>
<circle cx="450.68" cy="379.60" r="1.22" fill="#3a703a" stroke="#1a2c1a" stroke-width="0.7" fill-opacity="0.9"/>
<circle cx="454.40" cy="379.60" r="1.22" fill="#3a703a" stroke="#1a2c1a" stroke-width="0.7" fill-opacity="0.9"/>
<circle cx="458.12" cy="379.60" r="1.22" fill="#3a703a" stroke="#1a2c1a" stroke-width="0.7" fill-opacity="0.9"/>
<circle cx="461.84" cy="379.60" r="1.22" fill="#3a703a" stroke="#1a2c1a" stroke-width="0.7" fill-opacity="0.9"/>
<circle cx="465.56" cy="379.60" r="1.22" fill="#3a703a" stroke="#1a2c1a" stroke-width="0.7" fill-opacity="0.9"/>
<circle cx="446.96" cy="387.20" r="1.22" fill="#3a703a" stroke="#1a2c1a" stroke-width="0.7" fill-opacity="0.9"/>
<circle cx="450.68" cy="387.20" r="1.22" fill="#3a703a" stroke="#1a2c1a" stroke-width="0.7" fill-opacity="0.9"/>
<circle cx="454.40" cy="387.20" r="1.22" fill="#3a703a" stroke="#1a2c1a" stroke-width="0.7" fill-opacity="0.9"/>
<circle cx="458.12" cy="387.20" r="1.22" fill="#3a703a" stroke="#1a2c1a" stroke-width="0.7" fill-opacity="0.9"/>
<circle cx="461.84" cy="387.20" r="1.22" fill="#3a703a" stroke="#1a2c1a" stroke-width="0.7" fill-opacity="0.9"/>
<circle cx="452.54" cy="392.40" r="1.22" fill="#3a703a" stroke="#1a2c1a" stroke-width="0.7" fill-opacity="0.9"/>
<circle cx="456.26" cy="392.40" r="1.22" fill="#3a703a" stroke="#1a2c1a" stroke-width="0.7" fill-opacity="0.9"/>
<circle cx="452.54" cy="401.10" r="1.22" fill="#3a703a" stroke="#1a2c1a" stroke-width="0.7" fill-opacity="0.9"/>
<circle cx="456.26" cy="401.10" r="1.22" fill="#3a703a" stroke="#1a2c1a" stroke-width="0.7" fill-opacity="0.9"/>
<circle cx="454.40" cy="413.40" r="1.22" fill="#3a703a" stroke="#1a2c1a" stroke-width="0.7" fill-opacity="0.9"/>
<circle cx="450.68" cy="422.10" r="1.22" fill="#3a703a" stroke="#1a2c1a" stroke-width="0.7" fill-opacity="0.9"/>
<circle cx="454.40" cy="422.10" r="1.22" fill="#3a703a" stroke="#1a2c1a" stroke-width="0.7" fill-opacity="0.9"/>
<circle cx="458.12" cy="422.10" r="1.22" fill="#3a703a" stroke="#1a2c1a" stroke-width="0.7" fill-opacity="0.9"/>
<line x1="418.20" y1="358.90" x2="490.60" y2="358.90" stroke="#1a3a1a" stroke-width="1.3"/>
<rect x="0.5" y="0.5" width="519" height="476" fill="none" stroke="#6a6a6a" stroke-width="1"/>
</svg>
</body></html>
